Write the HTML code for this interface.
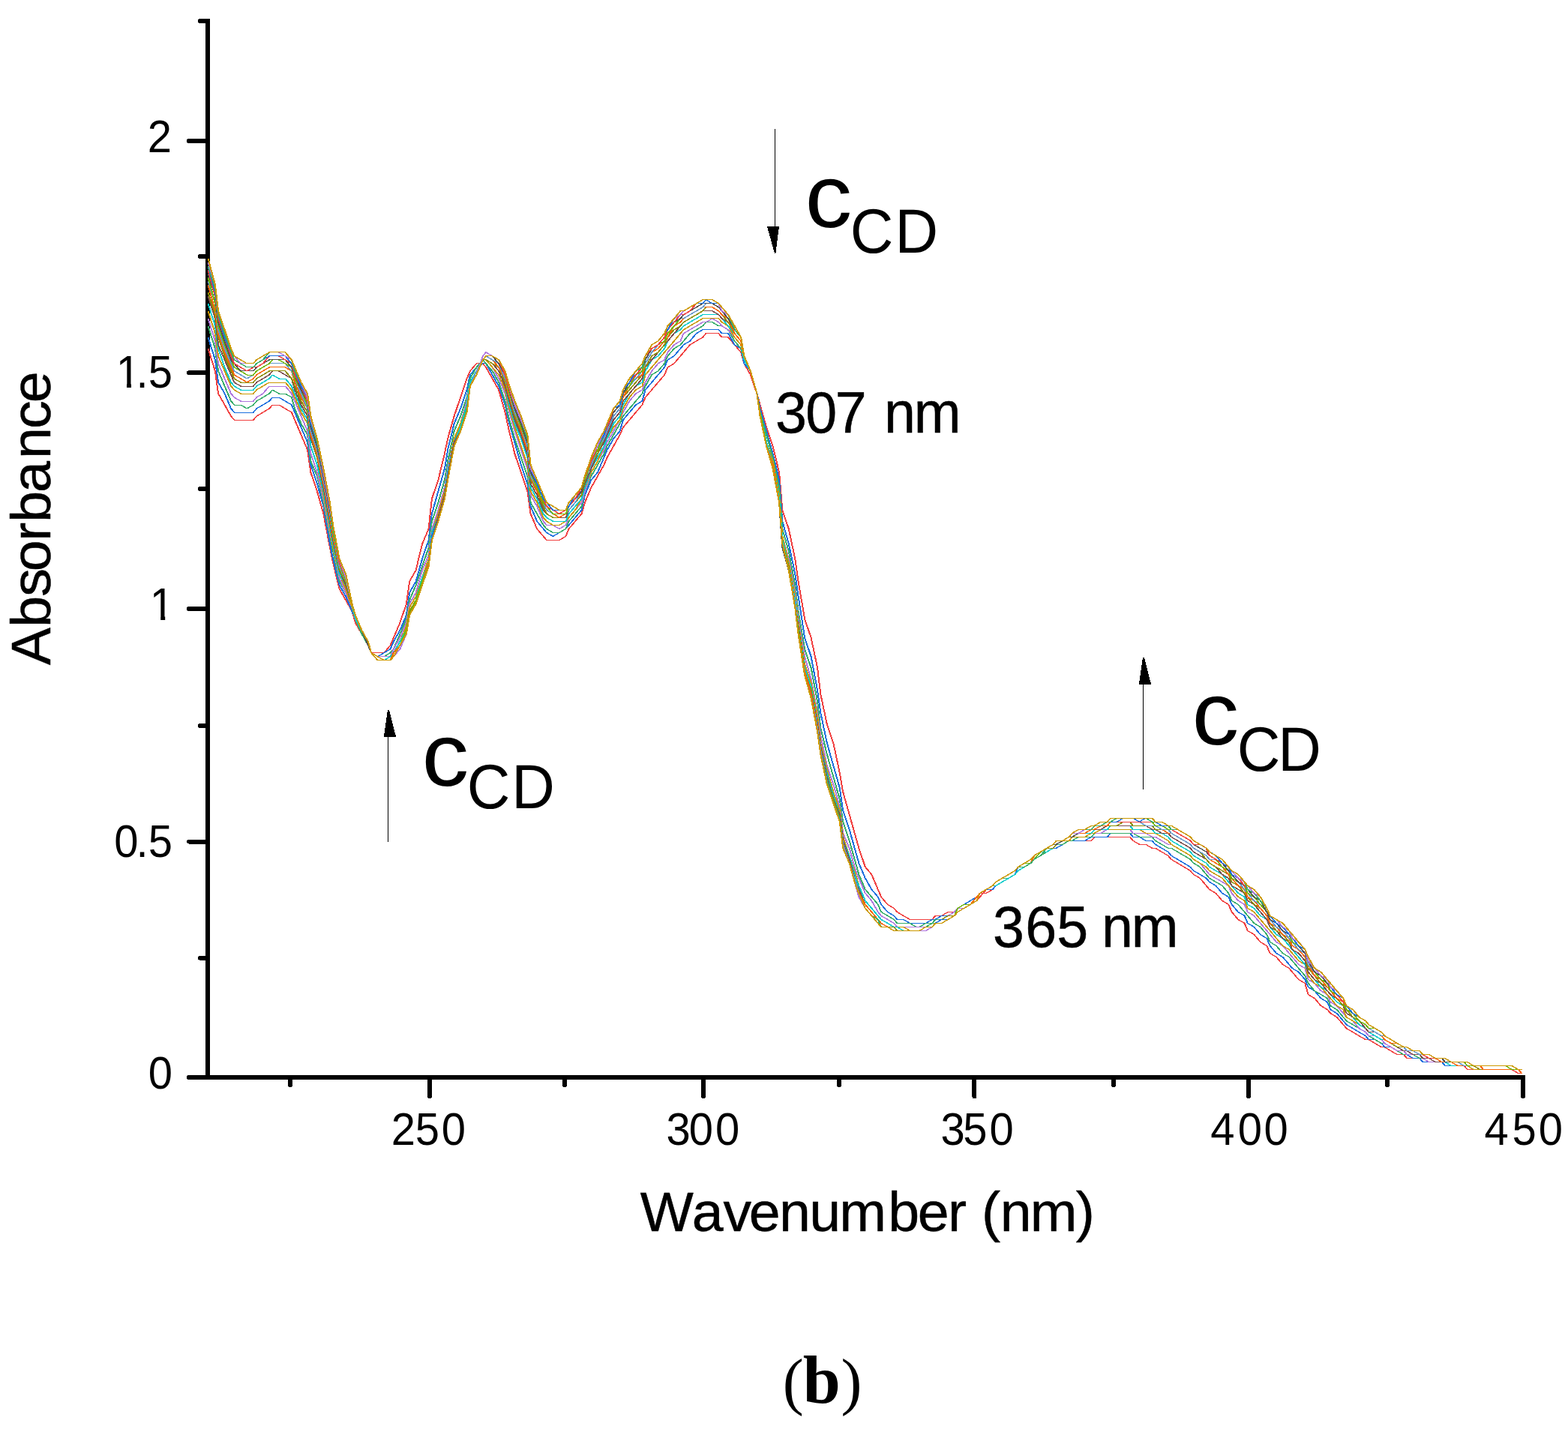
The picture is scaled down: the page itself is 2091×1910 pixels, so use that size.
<!DOCTYPE html>
<html lang="en"><head><meta charset="utf-8"><title>Absorbance spectra (b)</title>
<style>html,body{margin:0;padding:0;background:#fff}body{width:2091px;height:1910px;overflow:hidden}svg{display:block}text{white-space:pre}</style></head>
<body>
<svg width="2091" height="1910" viewBox="0 0 2091 1910" role="img" aria-label="UV absorbance spectra, panel b">
<rect width="2091" height="1910" fill="#fff"/>
<g fill="#000" shape-rendering="crispEdges">
<rect x="274" y="25.2" width="6" height="1414.8"/>
<rect x="274" y="1434" width="1760" height="6"/>
<rect x="249.2" y="185.1" width="28" height="6" rx="2.6"/>
<rect x="249.2" y="494.3" width="28" height="6" rx="2.6"/>
<rect x="249.2" y="809" width="28" height="6" rx="2.6"/>
<rect x="249.2" y="1119.5" width="28" height="6" rx="2.6"/>
<rect x="249.2" y="1434" width="28" height="6" rx="2.6"/>
<rect x="264.1" y="25.2" width="13" height="6" rx="2.6"/>
<rect x="264.1" y="339.3" width="13" height="6" rx="2.6"/>
<rect x="264.1" y="649" width="13" height="6" rx="2.6"/>
<rect x="264.1" y="964.8" width="13" height="6" rx="2.6"/>
<rect x="264.1" y="1274.7" width="13" height="6" rx="2.6"/>
<rect x="569.8" y="1437" width="6" height="28" rx="2.2"/>
<rect x="935" y="1437" width="6" height="28" rx="2.2"/>
<rect x="1296.3" y="1437" width="6" height="28" rx="2.2"/>
<rect x="1662" y="1437" width="6" height="28" rx="2.2"/>
<rect x="2028" y="1437" width="6" height="28" rx="2.2"/>
<rect x="384" y="1437" width="6" height="13.3" rx="2.6"/>
<rect x="750" y="1437" width="6" height="13.3" rx="2.6"/>
<rect x="1116" y="1437" width="6" height="13.3" rx="2.6"/>
<rect x="1482" y="1437" width="6" height="13.3" rx="2.6"/>
<rect x="1847" y="1437" width="6" height="13.3" rx="2.6"/>
</g>
<g fill="none" stroke-width="1" stroke-linejoin="miter" stroke-linecap="butt" shape-rendering="crispEdges">
<path stroke="#F14040" d="M277,464.9 286.4,494.9 290.6,525 299.1,540 307.6,555.1 311.9,560.1 337.4,560.1 341.6,555.1 350.1,550 358.6,545 362.9,540 371.4,540 379.9,545 388.4,550 392.6,560.1 401.1,580.1 409.6,600.1 413.9,630.2 422.4,655.3 430.9,685.3 439.4,730.4 443.6,750.4 452.1,785.5 460.6,800.5 469.1,815.6 473.4,830.6 481.9,845.6 490.4,860.7 494.6,870.7 511.6,870.7 520.1,860.7 524.4,850.6 532.9,830.6 541.4,805.6 545.6,775.5 554.1,760.5 562.6,725.4 571.1,705.4 575.4,665.3 583.9,640.2 592.4,605.2 596.6,585.1 605.1,555.1 613.6,530 622.1,505 626.4,494.9 634.9,484.9 643.4,484.9 647.6,489.9 656.1,505 664.6,520 673.1,550 677.4,570.1 685.9,605.2 694.4,630.2 702.9,655.3 707.1,685.3 715.6,705.4 724.1,715.4 728.4,720.4 745.4,720.4 753.9,715.4 758.1,705.4 766.6,695.3 775.1,685.3 779.4,670.3 787.9,650.2 796.4,635.2 804.9,620.2 809.1,610.2 817.6,595.1 826.1,580.1 830.4,570.1 838.9,560.1 847.4,550 855.9,540 860.1,530 868.6,520 877.1,510 885.6,500 889.9,489.9 898.4,484.9 906.9,474.9 911.1,469.9 919.6,459.9 928.1,454.9 936.6,449.9 940.9,444.8 957.9,444.8 962.1,449.9 970.6,449.9 979.1,459.9 987.6,469.9 991.9,484.9 1000.4,500 1008.9,525 1013.1,540 1021.6,570.1 1030.1,595.1 1038.6,630.2 1042.8,680.3 1051.3,705.4 1059.8,745.4 1064.1,775.5 1072.6,825.6 1081.1,850.6 1089.6,890.7 1093.8,925.8 1102.3,965.9 1110.8,990.9 1119.3,1031 1123.6,1056.1 1132.1,1086.1 1140.6,1116.2 1144.8,1131.2 1153.3,1156.3 1161.8,1166.3 1170.3,1186.3 1174.6,1196.3 1183.1,1206.4 1191.6,1211.4 1195.8,1216.4 1204.3,1221.4 1212.8,1226.4 1242.6,1226.4 1246.8,1221.4 1255.3,1221.4 1263.8,1216.4 1272.3,1216.4 1276.6,1211.4 1285.1,1206.4 1293.6,1201.3 1302.1,1196.3 1306.3,1191.3 1314.8,1191.3 1323.3,1186.3 1327.6,1181.3 1336.1,1176.3 1344.6,1171.3 1353.1,1166.3 1357.3,1161.3 1365.8,1156.3 1374.3,1151.2 1378.6,1146.2 1387.1,1141.2 1395.6,1136.2 1404.1,1131.2 1408.3,1131.2 1416.8,1126.2 1425.3,1121.2 1455.1,1121.2 1459.3,1116.2 1506.1,1116.2 1510.3,1121.2 1518.8,1126.2 1527.3,1126.2 1535.8,1131.2 1540.1,1131.2 1548.6,1136.2 1557.1,1141.2 1561.3,1146.2 1569.8,1151.2 1578.3,1156.3 1586.8,1161.3 1591.1,1166.3 1599.6,1171.3 1608.1,1181.3 1612.3,1186.3 1620.8,1191.3 1629.3,1201.3 1637.8,1206.4 1642.1,1216.4 1650.6,1226.4 1659.1,1231.4 1663.3,1241.4 1671.8,1246.4 1680.3,1256.5 1688.8,1261.5 1693.1,1271.5 1701.6,1276.5 1710.1,1286.5 1718.6,1291.5 1722.8,1296.5 1731.3,1306.6 1739.8,1311.6 1744.1,1326.6 1752.6,1331.6 1761.1,1341.6 1769.6,1346.6 1773.8,1351.6 1782.3,1356.7 1790.8,1366.7 1795.1,1371.7 1803.6,1376.7 1812.1,1381.7 1820.6,1386.7 1824.8,1386.7 1833.3,1391.7 1841.8,1396.7 1846.1,1396.7 1854.6,1401.8 1863.1,1406.8 1871.6,1406.8 1875.8,1411.8 1892.8,1411.8 1897.1,1416.8 1922.6,1416.8 1926.8,1421.8 1952.3,1421.8 1956.6,1426.8 2016.1,1426.8 2024.6,1431.8 2028.8,1431.8 M278,464.9 287.4,494.9 291.6,525 300.1,540 308.6,555.1 312.9,560.1 338.4,560.1 342.6,555.1 351.1,550 359.6,545 363.9,540 372.4,540 380.9,545 389.4,550 393.6,560.1 402.1,580.1 410.6,600.1 414.9,630.2 423.4,655.3 431.9,685.3 440.4,730.4 444.6,750.4 453.1,785.5 461.6,800.5 470.1,815.6 474.4,830.6 482.9,845.6 491.4,860.7 495.6,870.7 512.6,870.7 521.1,860.7 525.4,850.6 533.9,830.6 542.4,805.6 546.6,775.5 555.1,760.5 563.6,725.4 572.1,705.4 576.4,665.3 584.9,640.2 593.4,605.2 597.6,585.1 606.1,555.1 614.6,530 623.1,505 627.4,494.9 635.9,484.9 644.4,484.9 648.6,489.9 657.1,505 665.6,520 674.1,550 678.4,570.1 686.9,605.2 695.4,630.2 703.9,655.3 708.1,685.3 716.6,705.4 725.1,715.4 729.4,720.4 746.4,720.4 754.9,715.4 759.1,705.4 767.6,695.3 776.1,685.3 780.4,670.3 788.9,650.2 797.4,635.2 805.9,620.2 810.1,610.2 818.6,595.1 827.1,580.1 831.4,570.1 839.9,560.1 848.4,550 856.9,540 861.1,530 869.6,520 878.1,510 886.6,500 890.9,489.9 899.4,484.9 907.9,474.9 912.1,469.9 920.6,459.9 929.1,454.9 937.6,449.9 941.9,444.8 958.9,444.8 963.1,449.9 971.6,449.9 980.1,459.9 988.6,469.9 992.9,484.9 1001.4,500 1009.9,525 1014.1,540 1022.6,570.1 1031.1,595.1 1039.6,630.2 1043.8,680.3 1052.3,705.4 1060.8,745.4 1065.1,775.5 1073.6,825.6 1082.1,850.6 1090.6,890.7 1094.8,925.8 1103.3,965.9 1111.8,990.9 1120.3,1031 1124.6,1056.1 1133.1,1086.1 1141.6,1116.2 1145.8,1131.2 1154.3,1156.3 1162.8,1166.3 1171.3,1186.3 1175.6,1196.3 1184.1,1206.4 1192.6,1211.4 1196.8,1216.4 1205.3,1221.4 1213.8,1226.4 1243.6,1226.4 1247.8,1221.4 1256.3,1221.4 1264.8,1216.4 1273.3,1216.4 1277.6,1211.4 1286.1,1206.4 1294.6,1201.3 1303.1,1196.3 1307.3,1191.3 1315.8,1191.3 1324.3,1186.3 1328.6,1181.3 1337.1,1176.3 1345.6,1171.3 1354.1,1166.3 1358.3,1161.3 1366.8,1156.3 1375.3,1151.2 1379.6,1146.2 1388.1,1141.2 1396.6,1136.2 1405.1,1131.2 1409.3,1131.2 1417.8,1126.2 1426.3,1121.2 1456.1,1121.2 1460.3,1116.2 1507.1,1116.2 1511.3,1121.2 1519.8,1126.2 1528.3,1126.2 1536.8,1131.2 1541.1,1131.2 1549.6,1136.2 1558.1,1141.2 1562.3,1146.2 1570.8,1151.2 1579.3,1156.3 1587.8,1161.3 1592.1,1166.3 1600.6,1171.3 1609.1,1181.3 1613.3,1186.3 1621.8,1191.3 1630.3,1201.3 1638.8,1206.4 1643.1,1216.4 1651.6,1226.4 1660.1,1231.4 1664.3,1241.4 1672.8,1246.4 1681.3,1256.5 1689.8,1261.5 1694.1,1271.5 1702.6,1276.5 1711.1,1286.5 1719.6,1291.5 1723.8,1296.5 1732.3,1306.6 1740.8,1311.6 1745.1,1326.6 1753.6,1331.6 1762.1,1341.6 1770.6,1346.6 1774.8,1351.6 1783.3,1356.7 1791.8,1366.7 1796.1,1371.7 1804.6,1376.7 1813.1,1381.7 1821.6,1386.7 1825.8,1386.7 1834.3,1391.7 1842.8,1396.7 1847.1,1396.7 1855.6,1401.8 1864.1,1406.8 1872.6,1406.8 1876.8,1411.8 1893.8,1411.8 1898.1,1416.8 1923.6,1416.8 1927.8,1421.8 1953.3,1421.8 1957.6,1426.8 2017.1,1426.8 2025.6,1431.8 2029.8,1431.8"/>
<path stroke="#1A6FDF" d="M277,449.9 286.4,479.9 290.6,510 299.1,525 307.6,545 311.9,550 337.4,550 341.6,545 350.1,540 358.6,535 362.9,530 371.4,530 379.9,535 388.4,540 392.6,550 401.1,570.1 409.6,590.1 413.9,620.2 422.4,645.2 430.9,675.3 439.4,725.4 443.6,745.4 452.1,780.5 460.6,795.5 469.1,815.6 473.4,825.6 481.9,845.6 490.4,860.7 494.6,870.7 503.1,875.7 511.6,870.7 520.1,865.7 524.4,855.7 532.9,840.6 541.4,820.6 545.6,790.5 554.1,775.5 562.6,745.4 571.1,720.4 575.4,685.3 583.9,655.3 592.4,625.2 596.6,600.1 605.1,565.1 613.6,545 622.1,520 626.4,500 634.9,489.9 643.4,484.9 647.6,484.9 656.1,500 664.6,515 673.1,540 677.4,560.1 685.9,590.1 694.4,620.2 702.9,645.2 707.1,675.3 715.6,695.3 724.1,705.4 728.4,710.4 736.9,715.4 745.4,710.4 753.9,705.4 758.1,700.4 766.6,690.3 775.1,680.3 779.4,660.3 787.9,640.2 796.4,630.2 804.9,610.2 809.1,600.1 817.6,585.1 826.1,575.1 830.4,560.1 838.9,550 847.4,540 855.9,535 860.1,520 868.6,510 877.1,500 885.6,489.9 889.9,479.9 898.4,474.9 906.9,464.9 911.1,459.9 919.6,454.9 928.1,444.8 936.6,439.8 957.9,439.8 962.1,444.8 970.6,444.8 979.1,459.9 987.6,464.9 991.9,484.9 1000.4,494.9 1008.9,525 1013.1,545 1021.6,575.1 1030.1,605.2 1038.6,640.2 1042.8,695.3 1051.3,725.4 1059.8,765.5 1064.1,795.5 1072.6,850.6 1081.1,875.7 1089.6,920.8 1093.8,950.8 1102.3,990.9 1110.8,1021 1119.3,1051 1123.6,1081.1 1132.1,1106.2 1140.6,1136.2 1144.8,1151.2 1153.3,1171.3 1161.8,1186.3 1170.3,1196.3 1174.6,1206.4 1183.1,1216.4 1191.6,1221.4 1195.8,1226.4 1204.3,1226.4 1212.8,1231.4 1234.1,1231.4 1242.6,1226.4 1246.8,1226.4 1255.3,1221.4 1263.8,1221.4 1272.3,1216.4 1276.6,1211.4 1285.1,1206.4 1293.6,1201.3 1302.1,1196.3 1306.3,1191.3 1314.8,1186.3 1323.3,1186.3 1327.6,1181.3 1336.1,1176.3 1344.6,1171.3 1353.1,1166.3 1357.3,1156.3 1365.8,1151.2 1374.3,1151.2 1378.6,1146.2 1387.1,1141.2 1395.6,1136.2 1404.1,1131.2 1408.3,1131.2 1416.8,1126.2 1425.3,1121.2 1446.6,1121.2 1455.1,1116.2 1476.3,1116.2 1480.6,1111.2 1506.1,1111.2 1510.3,1116.2 1518.8,1116.2 1527.3,1121.2 1535.8,1121.2 1540.1,1126.2 1548.6,1131.2 1557.1,1136.2 1561.3,1141.2 1569.8,1146.2 1578.3,1151.2 1586.8,1156.3 1591.1,1161.3 1599.6,1166.3 1608.1,1171.3 1612.3,1176.3 1620.8,1181.3 1629.3,1191.3 1637.8,1196.3 1642.1,1206.4 1650.6,1216.4 1659.1,1221.4 1663.3,1231.4 1671.8,1236.4 1680.3,1246.4 1688.8,1251.5 1693.1,1261.5 1701.6,1271.5 1710.1,1276.5 1718.6,1286.5 1722.8,1291.5 1731.3,1296.5 1739.8,1306.6 1744.1,1316.6 1752.6,1321.6 1761.1,1331.6 1769.6,1336.6 1773.8,1346.6 1782.3,1351.6 1790.8,1361.7 1795.1,1366.7 1803.6,1371.7 1812.1,1376.7 1820.6,1381.7 1824.8,1386.7 1833.3,1386.7 1841.8,1391.7 1846.1,1396.7 1854.6,1396.7 1863.1,1401.8 1871.6,1406.8 1875.8,1406.8 1884.3,1411.8 1892.8,1411.8 1897.1,1416.8 1922.6,1416.8 1926.8,1421.8 1956.6,1421.8 1965.1,1426.8 2024.6,1426.8 2028.8,1431.8 M278,449.9 287.4,479.9 291.6,510 300.1,525 308.6,545 312.9,550 338.4,550 342.6,545 351.1,540 359.6,535 363.9,530 372.4,530 380.9,535 389.4,540 393.6,550 402.1,570.1 410.6,590.1 414.9,620.2 423.4,645.2 431.9,675.3 440.4,725.4 444.6,745.4 453.1,780.5 461.6,795.5 470.1,815.6 474.4,825.6 482.9,845.6 491.4,860.7 495.6,870.7 504.1,875.7 512.6,870.7 521.1,865.7 525.4,855.7 533.9,840.6 542.4,820.6 546.6,790.5 555.1,775.5 563.6,745.4 572.1,720.4 576.4,685.3 584.9,655.3 593.4,625.2 597.6,600.1 606.1,565.1 614.6,545 623.1,520 627.4,500 635.9,489.9 644.4,484.9 648.6,484.9 657.1,500 665.6,515 674.1,540 678.4,560.1 686.9,590.1 695.4,620.2 703.9,645.2 708.1,675.3 716.6,695.3 725.1,705.4 729.4,710.4 737.9,715.4 746.4,710.4 754.9,705.4 759.1,700.4 767.6,690.3 776.1,680.3 780.4,660.3 788.9,640.2 797.4,630.2 805.9,610.2 810.1,600.1 818.6,585.1 827.1,575.1 831.4,560.1 839.9,550 848.4,540 856.9,535 861.1,520 869.6,510 878.1,500 886.6,489.9 890.9,479.9 899.4,474.9 907.9,464.9 912.1,459.9 920.6,454.9 929.1,444.8 937.6,439.8 958.9,439.8 963.1,444.8 971.6,444.8 980.1,459.9 988.6,464.9 992.9,484.9 1001.4,494.9 1009.9,525 1014.1,545 1022.6,575.1 1031.1,605.2 1039.6,640.2 1043.8,695.3 1052.3,725.4 1060.8,765.5 1065.1,795.5 1073.6,850.6 1082.1,875.7 1090.6,920.8 1094.8,950.8 1103.3,990.9 1111.8,1021 1120.3,1051 1124.6,1081.1 1133.1,1106.2 1141.6,1136.2 1145.8,1151.2 1154.3,1171.3 1162.8,1186.3 1171.3,1196.3 1175.6,1206.4 1184.1,1216.4 1192.6,1221.4 1196.8,1226.4 1205.3,1226.4 1213.8,1231.4 1235.1,1231.4 1243.6,1226.4 1247.8,1226.4 1256.3,1221.4 1264.8,1221.4 1273.3,1216.4 1277.6,1211.4 1286.1,1206.4 1294.6,1201.3 1303.1,1196.3 1307.3,1191.3 1315.8,1186.3 1324.3,1186.3 1328.6,1181.3 1337.1,1176.3 1345.6,1171.3 1354.1,1166.3 1358.3,1156.3 1366.8,1151.2 1375.3,1151.2 1379.6,1146.2 1388.1,1141.2 1396.6,1136.2 1405.1,1131.2 1409.3,1131.2 1417.8,1126.2 1426.3,1121.2 1447.6,1121.2 1456.1,1116.2 1477.3,1116.2 1481.6,1111.2 1507.1,1111.2 1511.3,1116.2 1519.8,1116.2 1528.3,1121.2 1536.8,1121.2 1541.1,1126.2 1549.6,1131.2 1558.1,1136.2 1562.3,1141.2 1570.8,1146.2 1579.3,1151.2 1587.8,1156.3 1592.1,1161.3 1600.6,1166.3 1609.1,1171.3 1613.3,1176.3 1621.8,1181.3 1630.3,1191.3 1638.8,1196.3 1643.1,1206.4 1651.6,1216.4 1660.1,1221.4 1664.3,1231.4 1672.8,1236.4 1681.3,1246.4 1689.8,1251.5 1694.1,1261.5 1702.6,1271.5 1711.1,1276.5 1719.6,1286.5 1723.8,1291.5 1732.3,1296.5 1740.8,1306.6 1745.1,1316.6 1753.6,1321.6 1762.1,1331.6 1770.6,1336.6 1774.8,1346.6 1783.3,1351.6 1791.8,1361.7 1796.1,1366.7 1804.6,1371.7 1813.1,1376.7 1821.6,1381.7 1825.8,1386.7 1834.3,1386.7 1842.8,1391.7 1847.1,1396.7 1855.6,1396.7 1864.1,1401.8 1872.6,1406.8 1876.8,1406.8 1885.3,1411.8 1893.8,1411.8 1898.1,1416.8 1923.6,1416.8 1927.8,1421.8 1957.6,1421.8 1966.1,1426.8 2025.6,1426.8 2029.8,1431.8"/>
<path stroke="#37AD6B" d="M277,434.8 286.4,464.9 290.6,494.9 299.1,515 307.6,535 311.9,540 320.4,540 328.9,545 337.4,540 341.6,535 350.1,530 358.6,525 362.9,520 371.4,525 379.9,525 388.4,530 392.6,545 401.1,565.1 409.6,580.1 413.9,615.2 422.4,635.2 430.9,670.3 439.4,715.4 443.6,735.4 452.1,775.5 460.6,790.5 469.1,810.6 473.4,825.6 481.9,845.6 490.4,860.7 494.6,870.7 503.1,875.7 511.6,875.7 520.1,870.7 524.4,865.7 532.9,845.6 541.4,825.6 545.6,800.5 554.1,780.5 562.6,755.5 571.1,730.4 575.4,695.3 583.9,670.3 592.4,640.2 596.6,615.2 605.1,575.1 613.6,555.1 622.1,530 626.4,505 634.9,489.9 643.4,479.9 647.6,484.9 656.1,494.9 664.6,510 673.1,535 677.4,555.1 685.9,585.1 694.4,610.2 702.9,635.2 707.1,670.3 715.6,685.3 724.1,700.4 728.4,705.4 736.9,710.4 745.4,710.4 753.9,705.4 758.1,695.3 766.6,685.3 775.1,675.3 779.4,655.3 787.9,635.2 796.4,620.2 804.9,605.2 809.1,595.1 817.6,580.1 826.1,565.1 830.4,555.1 838.9,545 847.4,535 855.9,525 860.1,515 868.6,500 877.1,494.9 885.6,484.9 889.9,474.9 898.4,464.9 906.9,459.9 911.1,454.9 919.6,444.8 928.1,439.8 936.6,434.8 940.9,429.8 949.4,429.8 957.9,434.8 962.1,434.8 970.6,439.8 979.1,454.9 987.6,464.9 991.9,479.9 1000.4,494.9 1008.9,525 1013.1,550 1021.6,580.1 1030.1,610.2 1038.6,650.2 1042.8,705.4 1051.3,735.4 1059.8,780.5 1064.1,815.6 1072.6,865.7 1081.1,890.7 1089.6,935.8 1093.8,970.9 1102.3,1006 1110.8,1036 1119.3,1066.1 1123.6,1096.1 1132.1,1121.2 1140.6,1151.2 1144.8,1166.3 1153.3,1186.3 1161.8,1196.3 1170.3,1206.4 1174.6,1216.4 1183.1,1221.4 1191.6,1226.4 1195.8,1231.4 1212.8,1231.4 1221.3,1236.4 1225.6,1236.4 1234.1,1231.4 1242.6,1231.4 1246.8,1226.4 1255.3,1226.4 1263.8,1221.4 1272.3,1216.4 1276.6,1211.4 1285.1,1211.4 1293.6,1206.4 1302.1,1201.3 1306.3,1191.3 1314.8,1186.3 1323.3,1181.3 1327.6,1176.3 1336.1,1171.3 1344.6,1171.3 1353.1,1166.3 1357.3,1161.3 1365.8,1156.3 1374.3,1151.2 1378.6,1146.2 1387.1,1141.2 1395.6,1136.2 1404.1,1131.2 1408.3,1126.2 1416.8,1126.2 1425.3,1121.2 1429.6,1121.2 1438.1,1116.2 1455.1,1116.2 1459.3,1111.2 1510.3,1111.2 1518.8,1116.2 1535.8,1116.2 1540.1,1121.2 1548.6,1126.2 1557.1,1131.2 1561.3,1131.2 1569.8,1136.2 1578.3,1141.2 1586.8,1146.2 1591.1,1151.2 1599.6,1156.3 1608.1,1166.3 1612.3,1171.3 1620.8,1176.3 1629.3,1181.3 1637.8,1191.3 1642.1,1201.3 1650.6,1206.4 1659.1,1216.4 1663.3,1221.4 1671.8,1231.4 1680.3,1236.4 1688.8,1246.4 1693.1,1256.5 1701.6,1261.5 1710.1,1271.5 1718.6,1276.5 1722.8,1281.5 1731.3,1291.5 1739.8,1301.5 1744.1,1311.6 1752.6,1321.6 1761.1,1326.6 1769.6,1331.6 1773.8,1341.6 1782.3,1346.6 1790.8,1356.7 1795.1,1361.7 1803.6,1366.7 1812.1,1371.7 1820.6,1376.7 1824.8,1381.7 1833.3,1386.7 1841.8,1391.7 1846.1,1391.7 1854.6,1396.7 1863.1,1401.8 1871.6,1406.8 1884.3,1406.8 1892.8,1411.8 1897.1,1411.8 1905.6,1416.8 1926.8,1416.8 1935.3,1421.8 1956.6,1421.8 1965.1,1426.8 2024.6,1426.8 2028.8,1431.8 M278,434.8 287.4,464.9 291.6,494.9 300.1,515 308.6,535 312.9,540 321.4,540 329.9,545 338.4,540 342.6,535 351.1,530 359.6,525 363.9,520 372.4,525 380.9,525 389.4,530 393.6,545 402.1,565.1 410.6,580.1 414.9,615.2 423.4,635.2 431.9,670.3 440.4,715.4 444.6,735.4 453.1,775.5 461.6,790.5 470.1,810.6 474.4,825.6 482.9,845.6 491.4,860.7 495.6,870.7 504.1,875.7 512.6,875.7 521.1,870.7 525.4,865.7 533.9,845.6 542.4,825.6 546.6,800.5 555.1,780.5 563.6,755.5 572.1,730.4 576.4,695.3 584.9,670.3 593.4,640.2 597.6,615.2 606.1,575.1 614.6,555.1 623.1,530 627.4,505 635.9,489.9 644.4,479.9 648.6,484.9 657.1,494.9 665.6,510 674.1,535 678.4,555.1 686.9,585.1 695.4,610.2 703.9,635.2 708.1,670.3 716.6,685.3 725.1,700.4 729.4,705.4 737.9,710.4 746.4,710.4 754.9,705.4 759.1,695.3 767.6,685.3 776.1,675.3 780.4,655.3 788.9,635.2 797.4,620.2 805.9,605.2 810.1,595.1 818.6,580.1 827.1,565.1 831.4,555.1 839.9,545 848.4,535 856.9,525 861.1,515 869.6,500 878.1,494.9 886.6,484.9 890.9,474.9 899.4,464.9 907.9,459.9 912.1,454.9 920.6,444.8 929.1,439.8 937.6,434.8 941.9,429.8 950.4,429.8 958.9,434.8 963.1,434.8 971.6,439.8 980.1,454.9 988.6,464.9 992.9,479.9 1001.4,494.9 1009.9,525 1014.1,550 1022.6,580.1 1031.1,610.2 1039.6,650.2 1043.8,705.4 1052.3,735.4 1060.8,780.5 1065.1,815.6 1073.6,865.7 1082.1,890.7 1090.6,935.8 1094.8,970.9 1103.3,1006 1111.8,1036 1120.3,1066.1 1124.6,1096.1 1133.1,1121.2 1141.6,1151.2 1145.8,1166.3 1154.3,1186.3 1162.8,1196.3 1171.3,1206.4 1175.6,1216.4 1184.1,1221.4 1192.6,1226.4 1196.8,1231.4 1213.8,1231.4 1222.3,1236.4 1226.6,1236.4 1235.1,1231.4 1243.6,1231.4 1247.8,1226.4 1256.3,1226.4 1264.8,1221.4 1273.3,1216.4 1277.6,1211.4 1286.1,1211.4 1294.6,1206.4 1303.1,1201.3 1307.3,1191.3 1315.8,1186.3 1324.3,1181.3 1328.6,1176.3 1337.1,1171.3 1345.6,1171.3 1354.1,1166.3 1358.3,1161.3 1366.8,1156.3 1375.3,1151.2 1379.6,1146.2 1388.1,1141.2 1396.6,1136.2 1405.1,1131.2 1409.3,1126.2 1417.8,1126.2 1426.3,1121.2 1430.6,1121.2 1439.1,1116.2 1456.1,1116.2 1460.3,1111.2 1511.3,1111.2 1519.8,1116.2 1536.8,1116.2 1541.1,1121.2 1549.6,1126.2 1558.1,1131.2 1562.3,1131.2 1570.8,1136.2 1579.3,1141.2 1587.8,1146.2 1592.1,1151.2 1600.6,1156.3 1609.1,1166.3 1613.3,1171.3 1621.8,1176.3 1630.3,1181.3 1638.8,1191.3 1643.1,1201.3 1651.6,1206.4 1660.1,1216.4 1664.3,1221.4 1672.8,1231.4 1681.3,1236.4 1689.8,1246.4 1694.1,1256.5 1702.6,1261.5 1711.1,1271.5 1719.6,1276.5 1723.8,1281.5 1732.3,1291.5 1740.8,1301.5 1745.1,1311.6 1753.6,1321.6 1762.1,1326.6 1770.6,1331.6 1774.8,1341.6 1783.3,1346.6 1791.8,1356.7 1796.1,1361.7 1804.6,1366.7 1813.1,1371.7 1821.6,1376.7 1825.8,1381.7 1834.3,1386.7 1842.8,1391.7 1847.1,1391.7 1855.6,1396.7 1864.1,1401.8 1872.6,1406.8 1885.3,1406.8 1893.8,1411.8 1898.1,1411.8 1906.6,1416.8 1927.8,1416.8 1936.3,1421.8 1957.6,1421.8 1966.1,1426.8 2025.6,1426.8 2029.8,1431.8"/>
<path stroke="#B177DE" d="M277,424.8 286.4,454.9 290.6,484.9 299.1,505 307.6,525 311.9,530 320.4,535 337.4,535 341.6,530 350.1,525 358.6,515 379.9,515 388.4,525 392.6,535 401.1,555.1 409.6,575.1 413.9,605.2 422.4,630.2 430.9,665.3 439.4,710.4 443.6,730.4 452.1,770.5 460.6,790.5 469.1,810.6 473.4,825.6 481.9,840.6 490.4,855.7 494.6,870.7 503.1,875.7 520.1,875.7 524.4,865.7 532.9,850.6 541.4,830.6 545.6,805.6 554.1,790.5 562.6,760.5 571.1,740.4 575.4,705.4 583.9,680.3 592.4,650.2 596.6,625.2 605.1,585.1 613.6,565.1 622.1,535 626.4,510 634.9,494.9 643.4,479.9 647.6,479.9 656.1,489.9 664.6,505 673.1,525 677.4,545 685.9,575.1 694.4,600.1 702.9,625.2 707.1,660.3 715.6,675.3 724.1,695.3 728.4,700.4 736.9,700.4 745.4,705.4 753.9,700.4 758.1,690.3 766.6,680.3 775.1,670.3 779.4,655.3 787.9,630.2 796.4,615.2 804.9,600.1 809.1,590.1 817.6,575.1 826.1,560.1 830.4,550 838.9,535 847.4,525 855.9,520 860.1,510 868.6,494.9 877.1,484.9 885.6,479.9 889.9,469.9 898.4,459.9 906.9,454.9 911.1,444.8 919.6,439.8 928.1,434.8 936.6,429.8 940.9,429.8 949.4,424.8 957.9,429.8 962.1,434.8 970.6,439.8 979.1,449.9 987.6,459.9 991.9,479.9 1000.4,494.9 1008.9,525 1013.1,550 1021.6,590.1 1030.1,615.2 1038.6,660.3 1042.8,715.4 1051.3,745.4 1059.8,790.5 1064.1,825.6 1072.6,875.7 1081.1,905.8 1089.6,950.8 1093.8,980.9 1102.3,1021 1110.8,1046 1119.3,1076.1 1123.6,1111.2 1132.1,1131.2 1140.6,1161.3 1144.8,1171.3 1153.3,1191.3 1161.8,1201.3 1170.3,1216.4 1174.6,1221.4 1183.1,1226.4 1191.6,1231.4 1195.8,1236.4 1234.1,1236.4 1242.6,1231.4 1246.8,1231.4 1255.3,1226.4 1263.8,1221.4 1272.3,1216.4 1276.6,1211.4 1285.1,1211.4 1293.6,1206.4 1302.1,1201.3 1306.3,1191.3 1314.8,1186.3 1323.3,1181.3 1327.6,1181.3 1336.1,1176.3 1344.6,1171.3 1353.1,1166.3 1357.3,1161.3 1365.8,1156.3 1374.3,1151.2 1378.6,1146.2 1387.1,1141.2 1395.6,1131.2 1404.1,1131.2 1408.3,1126.2 1416.8,1121.2 1425.3,1121.2 1429.6,1116.2 1446.6,1116.2 1455.1,1111.2 1467.8,1111.2 1476.3,1106.2 1506.1,1106.2 1510.3,1111.2 1527.3,1111.2 1535.8,1116.2 1540.1,1116.2 1548.6,1121.2 1557.1,1126.2 1561.3,1126.2 1569.8,1131.2 1578.3,1136.2 1586.8,1141.2 1591.1,1146.2 1599.6,1151.2 1608.1,1161.3 1612.3,1166.3 1620.8,1171.3 1629.3,1176.3 1637.8,1181.3 1642.1,1191.3 1650.6,1201.3 1659.1,1206.4 1663.3,1216.4 1671.8,1221.4 1680.3,1231.4 1688.8,1241.4 1693.1,1246.4 1701.6,1256.5 1710.1,1261.5 1718.6,1271.5 1722.8,1276.5 1731.3,1286.5 1739.8,1291.5 1744.1,1306.6 1752.6,1311.6 1761.1,1321.6 1769.6,1326.6 1773.8,1336.6 1782.3,1341.6 1790.8,1351.6 1795.1,1356.7 1803.6,1361.7 1812.1,1371.7 1820.6,1376.7 1824.8,1381.7 1833.3,1381.7 1841.8,1386.7 1846.1,1391.7 1854.6,1396.7 1863.1,1401.8 1871.6,1401.8 1875.8,1406.8 1892.8,1406.8 1897.1,1411.8 1905.6,1416.8 1926.8,1416.8 1935.3,1421.8 1956.6,1421.8 1965.1,1426.8 2024.6,1426.8 2028.8,1431.8 M278,424.8 287.4,454.9 291.6,484.9 300.1,505 308.6,525 312.9,530 321.4,535 338.4,535 342.6,530 351.1,525 359.6,515 380.9,515 389.4,525 393.6,535 402.1,555.1 410.6,575.1 414.9,605.2 423.4,630.2 431.9,665.3 440.4,710.4 444.6,730.4 453.1,770.5 461.6,790.5 470.1,810.6 474.4,825.6 482.9,840.6 491.4,855.7 495.6,870.7 504.1,875.7 521.1,875.7 525.4,865.7 533.9,850.6 542.4,830.6 546.6,805.6 555.1,790.5 563.6,760.5 572.1,740.4 576.4,705.4 584.9,680.3 593.4,650.2 597.6,625.2 606.1,585.1 614.6,565.1 623.1,535 627.4,510 635.9,494.9 644.4,479.9 648.6,479.9 657.1,489.9 665.6,505 674.1,525 678.4,545 686.9,575.1 695.4,600.1 703.9,625.2 708.1,660.3 716.6,675.3 725.1,695.3 729.4,700.4 737.9,700.4 746.4,705.4 754.9,700.4 759.1,690.3 767.6,680.3 776.1,670.3 780.4,655.3 788.9,630.2 797.4,615.2 805.9,600.1 810.1,590.1 818.6,575.1 827.1,560.1 831.4,550 839.9,535 848.4,525 856.9,520 861.1,510 869.6,494.9 878.1,484.9 886.6,479.9 890.9,469.9 899.4,459.9 907.9,454.9 912.1,444.8 920.6,439.8 929.1,434.8 937.6,429.8 941.9,429.8 950.4,424.8 958.9,429.8 963.1,434.8 971.6,439.8 980.1,449.9 988.6,459.9 992.9,479.9 1001.4,494.9 1009.9,525 1014.1,550 1022.6,590.1 1031.1,615.2 1039.6,660.3 1043.8,715.4 1052.3,745.4 1060.8,790.5 1065.1,825.6 1073.6,875.7 1082.1,905.8 1090.6,950.8 1094.8,980.9 1103.3,1021 1111.8,1046 1120.3,1076.1 1124.6,1111.2 1133.1,1131.2 1141.6,1161.3 1145.8,1171.3 1154.3,1191.3 1162.8,1201.3 1171.3,1216.4 1175.6,1221.4 1184.1,1226.4 1192.6,1231.4 1196.8,1236.4 1235.1,1236.4 1243.6,1231.4 1247.8,1231.4 1256.3,1226.4 1264.8,1221.4 1273.3,1216.4 1277.6,1211.4 1286.1,1211.4 1294.6,1206.4 1303.1,1201.3 1307.3,1191.3 1315.8,1186.3 1324.3,1181.3 1328.6,1181.3 1337.1,1176.3 1345.6,1171.3 1354.1,1166.3 1358.3,1161.3 1366.8,1156.3 1375.3,1151.2 1379.6,1146.2 1388.1,1141.2 1396.6,1131.2 1405.1,1131.2 1409.3,1126.2 1417.8,1121.2 1426.3,1121.2 1430.6,1116.2 1447.6,1116.2 1456.1,1111.2 1468.8,1111.2 1477.3,1106.2 1507.1,1106.2 1511.3,1111.2 1528.3,1111.2 1536.8,1116.2 1541.1,1116.2 1549.6,1121.2 1558.1,1126.2 1562.3,1126.2 1570.8,1131.2 1579.3,1136.2 1587.8,1141.2 1592.1,1146.2 1600.6,1151.2 1609.1,1161.3 1613.3,1166.3 1621.8,1171.3 1630.3,1176.3 1638.8,1181.3 1643.1,1191.3 1651.6,1201.3 1660.1,1206.4 1664.3,1216.4 1672.8,1221.4 1681.3,1231.4 1689.8,1241.4 1694.1,1246.4 1702.6,1256.5 1711.1,1261.5 1719.6,1271.5 1723.8,1276.5 1732.3,1286.5 1740.8,1291.5 1745.1,1306.6 1753.6,1311.6 1762.1,1321.6 1770.6,1326.6 1774.8,1336.6 1783.3,1341.6 1791.8,1351.6 1796.1,1356.7 1804.6,1361.7 1813.1,1371.7 1821.6,1376.7 1825.8,1381.7 1834.3,1381.7 1842.8,1386.7 1847.1,1391.7 1855.6,1396.7 1864.1,1401.8 1872.6,1401.8 1876.8,1406.8 1893.8,1406.8 1898.1,1411.8 1906.6,1416.8 1927.8,1416.8 1936.3,1421.8 1957.6,1421.8 1966.1,1426.8 2025.6,1426.8 2029.8,1431.8"/>
<path stroke="#CC9900" d="M277,414.8 286.4,444.8 290.6,474.9 299.1,494.9 307.6,515 311.9,520 320.4,525 337.4,525 341.6,520 350.1,515 358.6,510 379.9,510 388.4,520 392.6,530 401.1,550 409.6,565.1 413.9,595.1 422.4,620.2 430.9,660.3 439.4,705.4 443.6,730.4 452.1,765.5 460.6,785.5 469.1,810.6 473.4,825.6 481.9,840.6 490.4,855.7 494.6,870.7 503.1,875.7 511.6,880.7 520.1,875.7 524.4,870.7 532.9,855.7 541.4,835.6 545.6,810.6 554.1,795.5 562.6,770.5 571.1,745.4 575.4,710.4 583.9,685.3 592.4,655.3 596.6,630.2 605.1,585.1 613.6,565.1 622.1,540 626.4,510 634.9,494.9 643.4,479.9 647.6,479.9 656.1,489.9 664.6,500 673.1,520 677.4,540 685.9,570.1 694.4,595.1 702.9,620.2 707.1,655.3 715.6,670.3 724.1,690.3 728.4,695.3 736.9,700.4 745.4,700.4 753.9,695.3 758.1,690.3 766.6,680.3 775.1,665.3 779.4,650.2 787.9,630.2 796.4,615.2 804.9,595.1 809.1,585.1 817.6,570.1 826.1,560.1 830.4,545 838.9,530 847.4,520 855.9,515 860.1,500 868.6,489.9 877.1,479.9 885.6,469.9 889.9,464.9 898.4,454.9 906.9,444.8 911.1,439.8 919.6,434.8 928.1,429.8 936.6,424.8 957.9,424.8 962.1,429.8 970.6,434.8 979.1,449.9 987.6,459.9 991.9,479.9 1000.4,494.9 1008.9,525 1013.1,550 1021.6,590.1 1030.1,615.2 1038.6,660.3 1042.8,715.4 1051.3,750.4 1059.8,795.5 1064.1,830.6 1072.6,885.7 1081.1,910.8 1089.6,955.9 1093.8,990.9 1102.3,1026 1110.8,1056.1 1119.3,1081.1 1123.6,1116.2 1132.1,1141.2 1140.6,1166.3 1144.8,1181.3 1153.3,1201.3 1161.8,1211.4 1170.3,1221.4 1174.6,1226.4 1183.1,1231.4 1191.6,1236.4 1204.3,1236.4 1212.8,1241.4 1225.6,1241.4 1234.1,1236.4 1242.6,1231.4 1246.8,1231.4 1255.3,1226.4 1263.8,1221.4 1272.3,1221.4 1276.6,1216.4 1285.1,1211.4 1293.6,1206.4 1302.1,1201.3 1306.3,1191.3 1314.8,1186.3 1323.3,1181.3 1327.6,1176.3 1336.1,1171.3 1344.6,1166.3 1353.1,1161.3 1357.3,1156.3 1365.8,1151.2 1374.3,1146.2 1378.6,1141.2 1387.1,1136.2 1395.6,1136.2 1404.1,1131.2 1408.3,1126.2 1416.8,1121.2 1425.3,1121.2 1429.6,1116.2 1446.6,1116.2 1455.1,1111.2 1459.3,1111.2 1467.8,1106.2 1518.8,1106.2 1527.3,1111.2 1540.1,1111.2 1548.6,1116.2 1557.1,1121.2 1561.3,1126.2 1569.8,1131.2 1578.3,1136.2 1586.8,1141.2 1591.1,1146.2 1599.6,1151.2 1608.1,1156.3 1612.3,1161.3 1620.8,1166.3 1629.3,1171.3 1637.8,1181.3 1642.1,1186.3 1650.6,1196.3 1659.1,1201.3 1663.3,1211.4 1671.8,1216.4 1680.3,1226.4 1688.8,1236.4 1693.1,1241.4 1701.6,1251.5 1710.1,1261.5 1718.6,1266.5 1722.8,1271.5 1731.3,1281.5 1739.8,1286.5 1744.1,1301.5 1752.6,1311.6 1761.1,1316.6 1769.6,1326.6 1773.8,1331.6 1782.3,1341.6 1790.8,1346.6 1795.1,1356.7 1803.6,1361.7 1812.1,1366.7 1820.6,1371.7 1824.8,1376.7 1833.3,1381.7 1841.8,1386.7 1846.1,1386.7 1854.6,1391.7 1863.1,1396.7 1871.6,1401.8 1875.8,1401.8 1884.3,1406.8 1892.8,1406.8 1897.1,1411.8 1905.6,1411.8 1914.1,1416.8 1926.8,1416.8 1935.3,1421.8 1956.6,1421.8 1965.1,1426.8 2024.6,1426.8 2028.8,1431.8 M278,414.8 287.4,444.8 291.6,474.9 300.1,494.9 308.6,515 312.9,520 321.4,525 338.4,525 342.6,520 351.1,515 359.6,510 380.9,510 389.4,520 393.6,530 402.1,550 410.6,565.1 414.9,595.1 423.4,620.2 431.9,660.3 440.4,705.4 444.6,730.4 453.1,765.5 461.6,785.5 470.1,810.6 474.4,825.6 482.9,840.6 491.4,855.7 495.6,870.7 504.1,875.7 512.6,880.7 521.1,875.7 525.4,870.7 533.9,855.7 542.4,835.6 546.6,810.6 555.1,795.5 563.6,770.5 572.1,745.4 576.4,710.4 584.9,685.3 593.4,655.3 597.6,630.2 606.1,585.1 614.6,565.1 623.1,540 627.4,510 635.9,494.9 644.4,479.9 648.6,479.9 657.1,489.9 665.6,500 674.1,520 678.4,540 686.9,570.1 695.4,595.1 703.9,620.2 708.1,655.3 716.6,670.3 725.1,690.3 729.4,695.3 737.9,700.4 746.4,700.4 754.9,695.3 759.1,690.3 767.6,680.3 776.1,665.3 780.4,650.2 788.9,630.2 797.4,615.2 805.9,595.1 810.1,585.1 818.6,570.1 827.1,560.1 831.4,545 839.9,530 848.4,520 856.9,515 861.1,500 869.6,489.9 878.1,479.9 886.6,469.9 890.9,464.9 899.4,454.9 907.9,444.8 912.1,439.8 920.6,434.8 929.1,429.8 937.6,424.8 958.9,424.8 963.1,429.8 971.6,434.8 980.1,449.9 988.6,459.9 992.9,479.9 1001.4,494.9 1009.9,525 1014.1,550 1022.6,590.1 1031.1,615.2 1039.6,660.3 1043.8,715.4 1052.3,750.4 1060.8,795.5 1065.1,830.6 1073.6,885.7 1082.1,910.8 1090.6,955.9 1094.8,990.9 1103.3,1026 1111.8,1056.1 1120.3,1081.1 1124.6,1116.2 1133.1,1141.2 1141.6,1166.3 1145.8,1181.3 1154.3,1201.3 1162.8,1211.4 1171.3,1221.4 1175.6,1226.4 1184.1,1231.4 1192.6,1236.4 1205.3,1236.4 1213.8,1241.4 1226.6,1241.4 1235.1,1236.4 1243.6,1231.4 1247.8,1231.4 1256.3,1226.4 1264.8,1221.4 1273.3,1221.4 1277.6,1216.4 1286.1,1211.4 1294.6,1206.4 1303.1,1201.3 1307.3,1191.3 1315.8,1186.3 1324.3,1181.3 1328.6,1176.3 1337.1,1171.3 1345.6,1166.3 1354.1,1161.3 1358.3,1156.3 1366.8,1151.2 1375.3,1146.2 1379.6,1141.2 1388.1,1136.2 1396.6,1136.2 1405.1,1131.2 1409.3,1126.2 1417.8,1121.2 1426.3,1121.2 1430.6,1116.2 1447.6,1116.2 1456.1,1111.2 1460.3,1111.2 1468.8,1106.2 1519.8,1106.2 1528.3,1111.2 1541.1,1111.2 1549.6,1116.2 1558.1,1121.2 1562.3,1126.2 1570.8,1131.2 1579.3,1136.2 1587.8,1141.2 1592.1,1146.2 1600.6,1151.2 1609.1,1156.3 1613.3,1161.3 1621.8,1166.3 1630.3,1171.3 1638.8,1181.3 1643.1,1186.3 1651.6,1196.3 1660.1,1201.3 1664.3,1211.4 1672.8,1216.4 1681.3,1226.4 1689.8,1236.4 1694.1,1241.4 1702.6,1251.5 1711.1,1261.5 1719.6,1266.5 1723.8,1271.5 1732.3,1281.5 1740.8,1286.5 1745.1,1301.5 1753.6,1311.6 1762.1,1316.6 1770.6,1326.6 1774.8,1331.6 1783.3,1341.6 1791.8,1346.6 1796.1,1356.7 1804.6,1361.7 1813.1,1366.7 1821.6,1371.7 1825.8,1376.7 1834.3,1381.7 1842.8,1386.7 1847.1,1386.7 1855.6,1391.7 1864.1,1396.7 1872.6,1401.8 1876.8,1401.8 1885.3,1406.8 1893.8,1406.8 1898.1,1411.8 1906.6,1411.8 1915.1,1416.8 1927.8,1416.8 1936.3,1421.8 1957.6,1421.8 1966.1,1426.8 2025.6,1426.8 2029.8,1431.8"/>
<path stroke="#00CBCC" d="M277,404.8 286.4,434.8 290.6,464.9 299.1,489.9 307.6,510 311.9,515 320.4,520 337.4,520 341.6,515 350.1,510 358.6,505 362.9,500 371.4,505 379.9,505 388.4,515 392.6,525 401.1,545 409.6,560.1 413.9,595.1 422.4,620.2 430.9,655.3 439.4,700.4 443.6,725.4 452.1,765.5 460.6,780.5 469.1,805.6 473.4,825.6 481.9,840.6 490.4,860.7 494.6,870.7 503.1,880.7 511.6,880.7 520.1,875.7 524.4,870.7 532.9,855.7 541.4,840.6 545.6,815.6 554.1,800.5 562.6,770.5 571.1,750.4 575.4,710.4 583.9,690.3 592.4,660.3 596.6,630.2 605.1,590.1 613.6,570.1 622.1,540 626.4,510 634.9,494.9 643.4,479.9 647.6,479.9 656.1,484.9 664.6,494.9 673.1,515 677.4,535 685.9,565.1 694.4,585.1 702.9,610.2 707.1,650.2 715.6,665.3 724.1,685.3 728.4,690.3 736.9,695.3 753.9,695.3 758.1,685.3 766.6,675.3 775.1,665.3 779.4,650.2 787.9,625.2 796.4,610.2 804.9,595.1 809.1,585.1 817.6,565.1 826.1,555.1 830.4,540 838.9,525 847.4,515 855.9,510 860.1,494.9 868.6,479.9 877.1,474.9 885.6,464.9 889.9,454.9 898.4,444.8 906.9,439.8 911.1,434.8 919.6,429.8 928.1,424.8 936.6,419.8 957.9,419.8 962.1,424.8 970.6,434.8 979.1,444.8 987.6,454.9 991.9,479.9 1000.4,494.9 1008.9,525 1013.1,550 1021.6,590.1 1030.1,620.2 1038.6,665.3 1042.8,720.4 1051.3,755.5 1059.8,800.5 1064.1,835.6 1072.6,890.7 1081.1,915.8 1089.6,965.9 1093.8,995.9 1102.3,1031 1110.8,1061.1 1119.3,1086.1 1123.6,1121.2 1132.1,1141.2 1140.6,1171.3 1144.8,1181.3 1153.3,1201.3 1161.8,1211.4 1170.3,1221.4 1174.6,1226.4 1183.1,1231.4 1191.6,1236.4 1195.8,1236.4 1204.3,1241.4 1225.6,1241.4 1234.1,1236.4 1242.6,1236.4 1246.8,1231.4 1255.3,1231.4 1263.8,1226.4 1272.3,1221.4 1276.6,1211.4 1285.1,1206.4 1293.6,1206.4 1302.1,1201.3 1306.3,1191.3 1314.8,1186.3 1323.3,1181.3 1327.6,1181.3 1336.1,1176.3 1344.6,1171.3 1353.1,1166.3 1357.3,1161.3 1365.8,1156.3 1374.3,1151.2 1378.6,1146.2 1387.1,1136.2 1395.6,1136.2 1404.1,1131.2 1408.3,1126.2 1416.8,1121.2 1425.3,1116.2 1429.6,1116.2 1438.1,1111.2 1455.1,1111.2 1459.3,1106.2 1476.3,1106.2 1480.6,1101.2 1506.1,1101.2 1510.3,1106.2 1535.8,1106.2 1540.1,1111.2 1548.6,1111.2 1557.1,1116.2 1561.3,1121.2 1569.8,1126.2 1578.3,1131.2 1586.8,1136.2 1591.1,1141.2 1599.6,1146.2 1608.1,1151.2 1612.3,1156.3 1620.8,1161.3 1629.3,1166.3 1637.8,1176.3 1642.1,1181.3 1650.6,1191.3 1659.1,1196.3 1663.3,1206.4 1671.8,1211.4 1680.3,1221.4 1688.8,1226.4 1693.1,1236.4 1701.6,1246.4 1710.1,1251.5 1718.6,1261.5 1722.8,1266.5 1731.3,1276.5 1739.8,1286.5 1744.1,1296.5 1752.6,1306.6 1761.1,1316.6 1769.6,1321.6 1773.8,1326.6 1782.3,1336.6 1790.8,1341.6 1795.1,1351.6 1803.6,1356.7 1812.1,1366.7 1820.6,1371.7 1824.8,1376.7 1833.3,1381.7 1841.8,1386.7 1846.1,1386.7 1854.6,1391.7 1863.1,1396.7 1871.6,1401.8 1875.8,1401.8 1884.3,1406.8 1892.8,1406.8 1897.1,1411.8 1905.6,1411.8 1914.1,1416.8 1926.8,1416.8 1935.3,1421.8 1965.1,1421.8 1973.6,1426.8 2024.6,1426.8 2028.8,1431.8 M278,404.8 287.4,434.8 291.6,464.9 300.1,489.9 308.6,510 312.9,515 321.4,520 338.4,520 342.6,515 351.1,510 359.6,505 363.9,500 372.4,505 380.9,505 389.4,515 393.6,525 402.1,545 410.6,560.1 414.9,595.1 423.4,620.2 431.9,655.3 440.4,700.4 444.6,725.4 453.1,765.5 461.6,780.5 470.1,805.6 474.4,825.6 482.9,840.6 491.4,860.7 495.6,870.7 504.1,880.7 512.6,880.7 521.1,875.7 525.4,870.7 533.9,855.7 542.4,840.6 546.6,815.6 555.1,800.5 563.6,770.5 572.1,750.4 576.4,710.4 584.9,690.3 593.4,660.3 597.6,630.2 606.1,590.1 614.6,570.1 623.1,540 627.4,510 635.9,494.9 644.4,479.9 648.6,479.9 657.1,484.9 665.6,494.9 674.1,515 678.4,535 686.9,565.1 695.4,585.1 703.9,610.2 708.1,650.2 716.6,665.3 725.1,685.3 729.4,690.3 737.9,695.3 754.9,695.3 759.1,685.3 767.6,675.3 776.1,665.3 780.4,650.2 788.9,625.2 797.4,610.2 805.9,595.1 810.1,585.1 818.6,565.1 827.1,555.1 831.4,540 839.9,525 848.4,515 856.9,510 861.1,494.9 869.6,479.9 878.1,474.9 886.6,464.9 890.9,454.9 899.4,444.8 907.9,439.8 912.1,434.8 920.6,429.8 929.1,424.8 937.6,419.8 958.9,419.8 963.1,424.8 971.6,434.8 980.1,444.8 988.6,454.9 992.9,479.9 1001.4,494.9 1009.9,525 1014.1,550 1022.6,590.1 1031.1,620.2 1039.6,665.3 1043.8,720.4 1052.3,755.5 1060.8,800.5 1065.1,835.6 1073.6,890.7 1082.1,915.8 1090.6,965.9 1094.8,995.9 1103.3,1031 1111.8,1061.1 1120.3,1086.1 1124.6,1121.2 1133.1,1141.2 1141.6,1171.3 1145.8,1181.3 1154.3,1201.3 1162.8,1211.4 1171.3,1221.4 1175.6,1226.4 1184.1,1231.4 1192.6,1236.4 1196.8,1236.4 1205.3,1241.4 1226.6,1241.4 1235.1,1236.4 1243.6,1236.4 1247.8,1231.4 1256.3,1231.4 1264.8,1226.4 1273.3,1221.4 1277.6,1211.4 1286.1,1206.4 1294.6,1206.4 1303.1,1201.3 1307.3,1191.3 1315.8,1186.3 1324.3,1181.3 1328.6,1181.3 1337.1,1176.3 1345.6,1171.3 1354.1,1166.3 1358.3,1161.3 1366.8,1156.3 1375.3,1151.2 1379.6,1146.2 1388.1,1136.2 1396.6,1136.2 1405.1,1131.2 1409.3,1126.2 1417.8,1121.2 1426.3,1116.2 1430.6,1116.2 1439.1,1111.2 1456.1,1111.2 1460.3,1106.2 1477.3,1106.2 1481.6,1101.2 1507.1,1101.2 1511.3,1106.2 1536.8,1106.2 1541.1,1111.2 1549.6,1111.2 1558.1,1116.2 1562.3,1121.2 1570.8,1126.2 1579.3,1131.2 1587.8,1136.2 1592.1,1141.2 1600.6,1146.2 1609.1,1151.2 1613.3,1156.3 1621.8,1161.3 1630.3,1166.3 1638.8,1176.3 1643.1,1181.3 1651.6,1191.3 1660.1,1196.3 1664.3,1206.4 1672.8,1211.4 1681.3,1221.4 1689.8,1226.4 1694.1,1236.4 1702.6,1246.4 1711.1,1251.5 1719.6,1261.5 1723.8,1266.5 1732.3,1276.5 1740.8,1286.5 1745.1,1296.5 1753.6,1306.6 1762.1,1316.6 1770.6,1321.6 1774.8,1326.6 1783.3,1336.6 1791.8,1341.6 1796.1,1351.6 1804.6,1356.7 1813.1,1366.7 1821.6,1371.7 1825.8,1376.7 1834.3,1381.7 1842.8,1386.7 1847.1,1386.7 1855.6,1391.7 1864.1,1396.7 1872.6,1401.8 1876.8,1401.8 1885.3,1406.8 1893.8,1406.8 1898.1,1411.8 1906.6,1411.8 1915.1,1416.8 1927.8,1416.8 1936.3,1421.8 1966.1,1421.8 1974.6,1426.8 2025.6,1426.8 2029.8,1431.8"/>
<path stroke="#7D4E4E" d="M277,394.7 286.4,424.8 290.6,459.9 299.1,479.9 307.6,500 311.9,510 320.4,515 337.4,515 341.6,510 350.1,505 358.6,500 362.9,494.9 371.4,494.9 379.9,500 388.4,505 392.6,520 401.1,540 409.6,555.1 413.9,585.1 422.4,610.2 430.9,650.2 439.4,695.3 443.6,720.4 452.1,760.5 460.6,780.5 469.1,805.6 473.4,820.6 481.9,840.6 490.4,860.7 494.6,870.7 503.1,880.7 520.1,880.7 524.4,875.7 532.9,860.7 541.4,840.6 545.6,815.6 554.1,800.5 562.6,775.5 571.1,750.4 575.4,715.4 583.9,690.3 592.4,660.3 596.6,635.2 605.1,590.1 613.6,575.1 622.1,545 626.4,515 634.9,494.9 643.4,479.9 647.6,479.9 656.1,484.9 664.6,494.9 673.1,515 677.4,530 685.9,560.1 694.4,580.1 702.9,605.2 707.1,645.2 715.6,660.3 724.1,680.3 728.4,685.3 736.9,690.3 753.9,690.3 758.1,680.3 766.6,670.3 775.1,660.3 779.4,645.2 787.9,625.2 796.4,605.2 804.9,590.1 809.1,580.1 817.6,560.1 826.1,550 830.4,535 838.9,525 847.4,515 855.9,505 860.1,489.9 868.6,479.9 877.1,469.9 885.6,459.9 889.9,454.9 898.4,444.8 906.9,434.8 911.1,429.8 919.6,424.8 928.1,419.8 936.6,414.8 949.4,414.8 957.9,419.8 962.1,424.8 970.6,429.8 979.1,444.8 987.6,454.9 991.9,474.9 1000.4,494.9 1008.9,525 1013.1,550 1021.6,595.1 1030.1,620.2 1038.6,670.3 1042.8,725.4 1051.3,755.5 1059.8,805.6 1064.1,835.6 1072.6,895.7 1081.1,920.8 1089.6,965.9 1093.8,995.9 1102.3,1036 1110.8,1066.1 1119.3,1086.1 1123.6,1121.2 1132.1,1146.2 1140.6,1176.3 1144.8,1186.3 1153.3,1206.4 1161.8,1216.4 1170.3,1226.4 1174.6,1231.4 1183.1,1236.4 1191.6,1236.4 1195.8,1241.4 1225.6,1241.4 1234.1,1236.4 1242.6,1231.4 1246.8,1231.4 1255.3,1226.4 1263.8,1226.4 1272.3,1221.4 1276.6,1216.4 1285.1,1211.4 1293.6,1206.4 1302.1,1201.3 1306.3,1191.3 1314.8,1186.3 1323.3,1181.3 1327.6,1176.3 1336.1,1171.3 1344.6,1166.3 1353.1,1161.3 1357.3,1156.3 1365.8,1156.3 1374.3,1151.2 1378.6,1146.2 1387.1,1136.2 1395.6,1131.2 1404.1,1126.2 1408.3,1126.2 1416.8,1121.2 1425.3,1116.2 1429.6,1116.2 1438.1,1111.2 1446.6,1111.2 1455.1,1106.2 1467.8,1106.2 1476.3,1101.2 1527.3,1101.2 1535.8,1106.2 1540.1,1106.2 1548.6,1111.2 1557.1,1111.2 1561.3,1116.2 1569.8,1121.2 1578.3,1126.2 1586.8,1131.2 1591.1,1136.2 1599.6,1141.2 1608.1,1146.2 1612.3,1151.2 1620.8,1156.3 1629.3,1166.3 1637.8,1171.3 1642.1,1181.3 1650.6,1186.3 1659.1,1191.3 1663.3,1201.3 1671.8,1206.4 1680.3,1216.4 1688.8,1226.4 1693.1,1236.4 1701.6,1241.4 1710.1,1251.5 1718.6,1256.5 1722.8,1266.5 1731.3,1271.5 1739.8,1281.5 1744.1,1296.5 1752.6,1306.6 1761.1,1311.6 1769.6,1321.6 1773.8,1326.6 1782.3,1331.6 1790.8,1341.6 1795.1,1351.6 1803.6,1356.7 1812.1,1361.7 1820.6,1371.7 1824.8,1376.7 1833.3,1376.7 1841.8,1381.7 1846.1,1386.7 1854.6,1391.7 1863.1,1396.7 1871.6,1401.8 1875.8,1401.8 1884.3,1406.8 1892.8,1406.8 1897.1,1411.8 1905.6,1411.8 1914.1,1416.8 1935.3,1416.8 1943.8,1421.8 1965.1,1421.8 1973.6,1426.8 2024.6,1426.8 2028.8,1431.8 M278,394.7 287.4,424.8 291.6,459.9 300.1,479.9 308.6,500 312.9,510 321.4,515 338.4,515 342.6,510 351.1,505 359.6,500 363.9,494.9 372.4,494.9 380.9,500 389.4,505 393.6,520 402.1,540 410.6,555.1 414.9,585.1 423.4,610.2 431.9,650.2 440.4,695.3 444.6,720.4 453.1,760.5 461.6,780.5 470.1,805.6 474.4,820.6 482.9,840.6 491.4,860.7 495.6,870.7 504.1,880.7 521.1,880.7 525.4,875.7 533.9,860.7 542.4,840.6 546.6,815.6 555.1,800.5 563.6,775.5 572.1,750.4 576.4,715.4 584.9,690.3 593.4,660.3 597.6,635.2 606.1,590.1 614.6,575.1 623.1,545 627.4,515 635.9,494.9 644.4,479.9 648.6,479.9 657.1,484.9 665.6,494.9 674.1,515 678.4,530 686.9,560.1 695.4,580.1 703.9,605.2 708.1,645.2 716.6,660.3 725.1,680.3 729.4,685.3 737.9,690.3 754.9,690.3 759.1,680.3 767.6,670.3 776.1,660.3 780.4,645.2 788.9,625.2 797.4,605.2 805.9,590.1 810.1,580.1 818.6,560.1 827.1,550 831.4,535 839.9,525 848.4,515 856.9,505 861.1,489.9 869.6,479.9 878.1,469.9 886.6,459.9 890.9,454.9 899.4,444.8 907.9,434.8 912.1,429.8 920.6,424.8 929.1,419.8 937.6,414.8 950.4,414.8 958.9,419.8 963.1,424.8 971.6,429.8 980.1,444.8 988.6,454.9 992.9,474.9 1001.4,494.9 1009.9,525 1014.1,550 1022.6,595.1 1031.1,620.2 1039.6,670.3 1043.8,725.4 1052.3,755.5 1060.8,805.6 1065.1,835.6 1073.6,895.7 1082.1,920.8 1090.6,965.9 1094.8,995.9 1103.3,1036 1111.8,1066.1 1120.3,1086.1 1124.6,1121.2 1133.1,1146.2 1141.6,1176.3 1145.8,1186.3 1154.3,1206.4 1162.8,1216.4 1171.3,1226.4 1175.6,1231.4 1184.1,1236.4 1192.6,1236.4 1196.8,1241.4 1226.6,1241.4 1235.1,1236.4 1243.6,1231.4 1247.8,1231.4 1256.3,1226.4 1264.8,1226.4 1273.3,1221.4 1277.6,1216.4 1286.1,1211.4 1294.6,1206.4 1303.1,1201.3 1307.3,1191.3 1315.8,1186.3 1324.3,1181.3 1328.6,1176.3 1337.1,1171.3 1345.6,1166.3 1354.1,1161.3 1358.3,1156.3 1366.8,1156.3 1375.3,1151.2 1379.6,1146.2 1388.1,1136.2 1396.6,1131.2 1405.1,1126.2 1409.3,1126.2 1417.8,1121.2 1426.3,1116.2 1430.6,1116.2 1439.1,1111.2 1447.6,1111.2 1456.1,1106.2 1468.8,1106.2 1477.3,1101.2 1528.3,1101.2 1536.8,1106.2 1541.1,1106.2 1549.6,1111.2 1558.1,1111.2 1562.3,1116.2 1570.8,1121.2 1579.3,1126.2 1587.8,1131.2 1592.1,1136.2 1600.6,1141.2 1609.1,1146.2 1613.3,1151.2 1621.8,1156.3 1630.3,1166.3 1638.8,1171.3 1643.1,1181.3 1651.6,1186.3 1660.1,1191.3 1664.3,1201.3 1672.8,1206.4 1681.3,1216.4 1689.8,1226.4 1694.1,1236.4 1702.6,1241.4 1711.1,1251.5 1719.6,1256.5 1723.8,1266.5 1732.3,1271.5 1740.8,1281.5 1745.1,1296.5 1753.6,1306.6 1762.1,1311.6 1770.6,1321.6 1774.8,1326.6 1783.3,1331.6 1791.8,1341.6 1796.1,1351.6 1804.6,1356.7 1813.1,1361.7 1821.6,1371.7 1825.8,1376.7 1834.3,1376.7 1842.8,1381.7 1847.1,1386.7 1855.6,1391.7 1864.1,1396.7 1872.6,1401.8 1876.8,1401.8 1885.3,1406.8 1893.8,1406.8 1898.1,1411.8 1906.6,1411.8 1915.1,1416.8 1936.3,1416.8 1944.8,1421.8 1966.1,1421.8 1974.6,1426.8 2025.6,1426.8 2029.8,1431.8"/>
<path stroke="#8E8E00" d="M277,389.7 286.4,419.8 290.6,449.9 299.1,474.9 307.6,494.9 311.9,505 320.4,510 337.4,510 341.6,505 350.1,500 358.6,494.9 379.9,494.9 388.4,505 392.6,515 401.1,535 409.6,550 413.9,580.1 422.4,610.2 430.9,645.2 439.4,690.3 443.6,715.4 452.1,760.5 460.6,775.5 469.1,805.6 473.4,820.6 481.9,840.6 490.4,855.7 494.6,870.7 503.1,880.7 520.1,880.7 524.4,875.7 532.9,860.7 541.4,840.6 545.6,815.6 554.1,800.5 562.6,775.5 571.1,750.4 575.4,715.4 583.9,695.3 592.4,665.3 596.6,640.2 605.1,595.1 613.6,575.1 622.1,545 626.4,515 634.9,500 643.4,479.9 647.6,479.9 656.1,484.9 664.6,489.9 673.1,510 677.4,525 685.9,555.1 694.4,575.1 702.9,600.1 707.1,640.2 715.6,655.3 724.1,675.3 728.4,685.3 736.9,690.3 745.4,690.3 753.9,685.3 758.1,680.3 766.6,670.3 775.1,660.3 779.4,640.2 787.9,620.2 796.4,605.2 804.9,585.1 809.1,575.1 817.6,555.1 826.1,545 830.4,530 838.9,520 847.4,510 855.9,500 860.1,489.9 868.6,474.9 877.1,469.9 885.6,459.9 889.9,449.9 898.4,439.8 906.9,434.8 911.1,429.8 919.6,424.8 928.1,419.8 936.6,414.8 940.9,409.8 949.4,409.8 957.9,414.8 962.1,419.8 970.6,429.8 979.1,444.8 987.6,454.9 991.9,474.9 1000.4,494.9 1008.9,525 1013.1,555.1 1021.6,595.1 1030.1,620.2 1038.6,670.3 1042.8,725.4 1051.3,755.5 1059.8,805.6 1064.1,840.6 1072.6,895.7 1081.1,920.8 1089.6,970.9 1093.8,1001 1102.3,1041 1110.8,1066.1 1119.3,1091.1 1123.6,1126.2 1132.1,1151.2 1140.6,1176.3 1144.8,1191.3 1153.3,1206.4 1161.8,1216.4 1170.3,1226.4 1174.6,1231.4 1183.1,1236.4 1191.6,1236.4 1195.8,1241.4 1225.6,1241.4 1234.1,1236.4 1242.6,1231.4 1246.8,1231.4 1255.3,1226.4 1263.8,1221.4 1272.3,1221.4 1276.6,1216.4 1285.1,1211.4 1293.6,1206.4 1302.1,1201.3 1306.3,1191.3 1314.8,1186.3 1323.3,1181.3 1327.6,1176.3 1336.1,1171.3 1344.6,1166.3 1353.1,1161.3 1357.3,1156.3 1365.8,1151.2 1374.3,1146.2 1378.6,1141.2 1387.1,1136.2 1395.6,1131.2 1404.1,1131.2 1408.3,1126.2 1416.8,1121.2 1425.3,1116.2 1429.6,1116.2 1438.1,1111.2 1446.6,1111.2 1455.1,1106.2 1459.3,1106.2 1467.8,1101.2 1489.1,1101.2 1497.6,1096.1 1506.1,1096.1 1510.3,1101.2 1535.8,1101.2 1540.1,1106.2 1548.6,1106.2 1557.1,1111.2 1561.3,1111.2 1569.8,1116.2 1578.3,1121.2 1586.8,1126.2 1591.1,1131.2 1599.6,1136.2 1608.1,1146.2 1612.3,1151.2 1620.8,1156.3 1629.3,1161.3 1637.8,1166.3 1642.1,1176.3 1650.6,1181.3 1659.1,1191.3 1663.3,1196.3 1671.8,1206.4 1680.3,1211.4 1688.8,1221.4 1693.1,1231.4 1701.6,1241.4 1710.1,1246.4 1718.6,1256.5 1722.8,1261.5 1731.3,1266.5 1739.8,1276.5 1744.1,1291.5 1752.6,1301.5 1761.1,1311.6 1769.6,1316.6 1773.8,1321.6 1782.3,1331.6 1790.8,1341.6 1795.1,1346.6 1803.6,1356.7 1812.1,1361.7 1820.6,1366.7 1824.8,1371.7 1833.3,1376.7 1841.8,1381.7 1846.1,1386.7 1854.6,1391.7 1863.1,1396.7 1871.6,1396.7 1875.8,1401.8 1884.3,1401.8 1892.8,1406.8 1897.1,1406.8 1905.6,1411.8 1914.1,1411.8 1922.6,1416.8 1935.3,1416.8 1943.8,1421.8 1965.1,1421.8 1973.6,1426.8 2024.6,1426.8 2028.8,1431.8 M278,389.7 287.4,419.8 291.6,449.9 300.1,474.9 308.6,494.9 312.9,505 321.4,510 338.4,510 342.6,505 351.1,500 359.6,494.9 380.9,494.9 389.4,505 393.6,515 402.1,535 410.6,550 414.9,580.1 423.4,610.2 431.9,645.2 440.4,690.3 444.6,715.4 453.1,760.5 461.6,775.5 470.1,805.6 474.4,820.6 482.9,840.6 491.4,855.7 495.6,870.7 504.1,880.7 521.1,880.7 525.4,875.7 533.9,860.7 542.4,840.6 546.6,815.6 555.1,800.5 563.6,775.5 572.1,750.4 576.4,715.4 584.9,695.3 593.4,665.3 597.6,640.2 606.1,595.1 614.6,575.1 623.1,545 627.4,515 635.9,500 644.4,479.9 648.6,479.9 657.1,484.9 665.6,489.9 674.1,510 678.4,525 686.9,555.1 695.4,575.1 703.9,600.1 708.1,640.2 716.6,655.3 725.1,675.3 729.4,685.3 737.9,690.3 746.4,690.3 754.9,685.3 759.1,680.3 767.6,670.3 776.1,660.3 780.4,640.2 788.9,620.2 797.4,605.2 805.9,585.1 810.1,575.1 818.6,555.1 827.1,545 831.4,530 839.9,520 848.4,510 856.9,500 861.1,489.9 869.6,474.9 878.1,469.9 886.6,459.9 890.9,449.9 899.4,439.8 907.9,434.8 912.1,429.8 920.6,424.8 929.1,419.8 937.6,414.8 941.9,409.8 950.4,409.8 958.9,414.8 963.1,419.8 971.6,429.8 980.1,444.8 988.6,454.9 992.9,474.9 1001.4,494.9 1009.9,525 1014.1,555.1 1022.6,595.1 1031.1,620.2 1039.6,670.3 1043.8,725.4 1052.3,755.5 1060.8,805.6 1065.1,840.6 1073.6,895.7 1082.1,920.8 1090.6,970.9 1094.8,1001 1103.3,1041 1111.8,1066.1 1120.3,1091.1 1124.6,1126.2 1133.1,1151.2 1141.6,1176.3 1145.8,1191.3 1154.3,1206.4 1162.8,1216.4 1171.3,1226.4 1175.6,1231.4 1184.1,1236.4 1192.6,1236.4 1196.8,1241.4 1226.6,1241.4 1235.1,1236.4 1243.6,1231.4 1247.8,1231.4 1256.3,1226.4 1264.8,1221.4 1273.3,1221.4 1277.6,1216.4 1286.1,1211.4 1294.6,1206.4 1303.1,1201.3 1307.3,1191.3 1315.8,1186.3 1324.3,1181.3 1328.6,1176.3 1337.1,1171.3 1345.6,1166.3 1354.1,1161.3 1358.3,1156.3 1366.8,1151.2 1375.3,1146.2 1379.6,1141.2 1388.1,1136.2 1396.6,1131.2 1405.1,1131.2 1409.3,1126.2 1417.8,1121.2 1426.3,1116.2 1430.6,1116.2 1439.1,1111.2 1447.6,1111.2 1456.1,1106.2 1460.3,1106.2 1468.8,1101.2 1490.1,1101.2 1498.6,1096.1 1507.1,1096.1 1511.3,1101.2 1536.8,1101.2 1541.1,1106.2 1549.6,1106.2 1558.1,1111.2 1562.3,1111.2 1570.8,1116.2 1579.3,1121.2 1587.8,1126.2 1592.1,1131.2 1600.6,1136.2 1609.1,1146.2 1613.3,1151.2 1621.8,1156.3 1630.3,1161.3 1638.8,1166.3 1643.1,1176.3 1651.6,1181.3 1660.1,1191.3 1664.3,1196.3 1672.8,1206.4 1681.3,1211.4 1689.8,1221.4 1694.1,1231.4 1702.6,1241.4 1711.1,1246.4 1719.6,1256.5 1723.8,1261.5 1732.3,1266.5 1740.8,1276.5 1745.1,1291.5 1753.6,1301.5 1762.1,1311.6 1770.6,1316.6 1774.8,1321.6 1783.3,1331.6 1791.8,1341.6 1796.1,1346.6 1804.6,1356.7 1813.1,1361.7 1821.6,1366.7 1825.8,1371.7 1834.3,1376.7 1842.8,1381.7 1847.1,1386.7 1855.6,1391.7 1864.1,1396.7 1872.6,1396.7 1876.8,1401.8 1885.3,1401.8 1893.8,1406.8 1898.1,1406.8 1906.6,1411.8 1915.1,1411.8 1923.6,1416.8 1936.3,1416.8 1944.8,1421.8 1966.1,1421.8 1974.6,1426.8 2025.6,1426.8 2029.8,1431.8"/>
<path stroke="#FB6501" d="M277,379.7 286.4,414.8 290.6,444.8 299.1,469.9 307.6,489.9 311.9,500 320.4,505 328.9,510 337.4,505 341.6,500 350.1,494.9 358.6,489.9 379.9,489.9 388.4,494.9 392.6,510 401.1,530 409.6,545 413.9,580.1 422.4,605.2 430.9,645.2 439.4,690.3 443.6,715.4 452.1,755.5 460.6,775.5 469.1,805.6 473.4,820.6 481.9,840.6 490.4,855.7 494.6,870.7 503.1,880.7 520.1,880.7 524.4,870.7 532.9,860.7 541.4,840.6 545.6,820.6 554.1,800.5 562.6,775.5 571.1,750.4 575.4,715.4 583.9,695.3 592.4,665.3 596.6,640.2 605.1,595.1 613.6,575.1 622.1,545 626.4,515 634.9,500 643.4,479.9 647.6,474.9 656.1,479.9 664.6,489.9 673.1,505 677.4,525 685.9,550 694.4,575.1 702.9,600.1 707.1,635.2 715.6,655.3 724.1,670.3 728.4,680.3 736.9,685.3 745.4,690.3 753.9,685.3 758.1,680.3 766.6,670.3 775.1,655.3 779.4,640.2 787.9,620.2 796.4,600.1 804.9,585.1 809.1,575.1 817.6,555.1 826.1,545 830.4,530 838.9,515 847.4,505 855.9,500 860.1,484.9 868.6,469.9 877.1,464.9 885.6,454.9 889.9,449.9 898.4,434.8 906.9,429.8 911.1,424.8 919.6,419.8 928.1,414.8 936.6,409.8 949.4,409.8 957.9,414.8 962.1,419.8 970.6,424.8 979.1,444.8 987.6,454.9 991.9,474.9 1000.4,494.9 1008.9,525 1013.1,550 1021.6,595.1 1030.1,620.2 1038.6,670.3 1042.8,725.4 1051.3,760.5 1059.8,805.6 1064.1,840.6 1072.6,895.7 1081.1,925.8 1089.6,970.9 1093.8,1001 1102.3,1041 1110.8,1071.1 1119.3,1091.1 1123.6,1126.2 1132.1,1151.2 1140.6,1176.3 1144.8,1191.3 1153.3,1206.4 1161.8,1216.4 1170.3,1226.4 1174.6,1231.4 1183.1,1236.4 1191.6,1241.4 1225.6,1241.4 1234.1,1236.4 1242.6,1231.4 1246.8,1231.4 1255.3,1226.4 1263.8,1226.4 1272.3,1221.4 1276.6,1211.4 1285.1,1206.4 1293.6,1206.4 1302.1,1196.3 1306.3,1191.3 1314.8,1186.3 1323.3,1181.3 1327.6,1176.3 1336.1,1171.3 1344.6,1166.3 1353.1,1161.3 1357.3,1156.3 1365.8,1151.2 1374.3,1151.2 1378.6,1141.2 1387.1,1136.2 1395.6,1131.2 1404.1,1126.2 1408.3,1126.2 1416.8,1121.2 1425.3,1116.2 1429.6,1116.2 1438.1,1111.2 1446.6,1111.2 1455.1,1106.2 1459.3,1106.2 1467.8,1101.2 1476.3,1101.2 1480.6,1096.1 1518.8,1096.1 1527.3,1101.2 1540.1,1101.2 1548.6,1106.2 1557.1,1111.2 1561.3,1111.2 1569.8,1116.2 1578.3,1121.2 1586.8,1126.2 1591.1,1131.2 1599.6,1136.2 1608.1,1141.2 1612.3,1146.2 1620.8,1151.2 1629.3,1156.3 1637.8,1166.3 1642.1,1171.3 1650.6,1181.3 1659.1,1186.3 1663.3,1196.3 1671.8,1201.3 1680.3,1211.4 1688.8,1221.4 1693.1,1231.4 1701.6,1236.4 1710.1,1246.4 1718.6,1251.5 1722.8,1261.5 1731.3,1266.5 1739.8,1276.5 1744.1,1286.5 1752.6,1301.5 1761.1,1306.6 1769.6,1316.6 1773.8,1321.6 1782.3,1331.6 1790.8,1336.6 1795.1,1346.6 1803.6,1351.6 1812.1,1361.7 1820.6,1366.7 1824.8,1371.7 1833.3,1376.7 1841.8,1381.7 1846.1,1386.7 1854.6,1391.7 1863.1,1391.7 1871.6,1396.7 1875.8,1401.8 1884.3,1401.8 1892.8,1406.8 1897.1,1406.8 1905.6,1411.8 1914.1,1411.8 1922.6,1416.8 1935.3,1416.8 1943.8,1421.8 1973.6,1421.8 1977.8,1426.8 2024.6,1426.8 2028.8,1431.8 M278,379.7 287.4,414.8 291.6,444.8 300.1,469.9 308.6,489.9 312.9,500 321.4,505 329.9,510 338.4,505 342.6,500 351.1,494.9 359.6,489.9 380.9,489.9 389.4,494.9 393.6,510 402.1,530 410.6,545 414.9,580.1 423.4,605.2 431.9,645.2 440.4,690.3 444.6,715.4 453.1,755.5 461.6,775.5 470.1,805.6 474.4,820.6 482.9,840.6 491.4,855.7 495.6,870.7 504.1,880.7 521.1,880.7 525.4,870.7 533.9,860.7 542.4,840.6 546.6,820.6 555.1,800.5 563.6,775.5 572.1,750.4 576.4,715.4 584.9,695.3 593.4,665.3 597.6,640.2 606.1,595.1 614.6,575.1 623.1,545 627.4,515 635.9,500 644.4,479.9 648.6,474.9 657.1,479.9 665.6,489.9 674.1,505 678.4,525 686.9,550 695.4,575.1 703.9,600.1 708.1,635.2 716.6,655.3 725.1,670.3 729.4,680.3 737.9,685.3 746.4,690.3 754.9,685.3 759.1,680.3 767.6,670.3 776.1,655.3 780.4,640.2 788.9,620.2 797.4,600.1 805.9,585.1 810.1,575.1 818.6,555.1 827.1,545 831.4,530 839.9,515 848.4,505 856.9,500 861.1,484.9 869.6,469.9 878.1,464.9 886.6,454.9 890.9,449.9 899.4,434.8 907.9,429.8 912.1,424.8 920.6,419.8 929.1,414.8 937.6,409.8 950.4,409.8 958.9,414.8 963.1,419.8 971.6,424.8 980.1,444.8 988.6,454.9 992.9,474.9 1001.4,494.9 1009.9,525 1014.1,550 1022.6,595.1 1031.1,620.2 1039.6,670.3 1043.8,725.4 1052.3,760.5 1060.8,805.6 1065.1,840.6 1073.6,895.7 1082.1,925.8 1090.6,970.9 1094.8,1001 1103.3,1041 1111.8,1071.1 1120.3,1091.1 1124.6,1126.2 1133.1,1151.2 1141.6,1176.3 1145.8,1191.3 1154.3,1206.4 1162.8,1216.4 1171.3,1226.4 1175.6,1231.4 1184.1,1236.4 1192.6,1241.4 1226.6,1241.4 1235.1,1236.4 1243.6,1231.4 1247.8,1231.4 1256.3,1226.4 1264.8,1226.4 1273.3,1221.4 1277.6,1211.4 1286.1,1206.4 1294.6,1206.4 1303.1,1196.3 1307.3,1191.3 1315.8,1186.3 1324.3,1181.3 1328.6,1176.3 1337.1,1171.3 1345.6,1166.3 1354.1,1161.3 1358.3,1156.3 1366.8,1151.2 1375.3,1151.2 1379.6,1141.2 1388.1,1136.2 1396.6,1131.2 1405.1,1126.2 1409.3,1126.2 1417.8,1121.2 1426.3,1116.2 1430.6,1116.2 1439.1,1111.2 1447.6,1111.2 1456.1,1106.2 1460.3,1106.2 1468.8,1101.2 1477.3,1101.2 1481.6,1096.1 1519.8,1096.1 1528.3,1101.2 1541.1,1101.2 1549.6,1106.2 1558.1,1111.2 1562.3,1111.2 1570.8,1116.2 1579.3,1121.2 1587.8,1126.2 1592.1,1131.2 1600.6,1136.2 1609.1,1141.2 1613.3,1146.2 1621.8,1151.2 1630.3,1156.3 1638.8,1166.3 1643.1,1171.3 1651.6,1181.3 1660.1,1186.3 1664.3,1196.3 1672.8,1201.3 1681.3,1211.4 1689.8,1221.4 1694.1,1231.4 1702.6,1236.4 1711.1,1246.4 1719.6,1251.5 1723.8,1261.5 1732.3,1266.5 1740.8,1276.5 1745.1,1286.5 1753.6,1301.5 1762.1,1306.6 1770.6,1316.6 1774.8,1321.6 1783.3,1331.6 1791.8,1336.6 1796.1,1346.6 1804.6,1351.6 1813.1,1361.7 1821.6,1366.7 1825.8,1371.7 1834.3,1376.7 1842.8,1381.7 1847.1,1386.7 1855.6,1391.7 1864.1,1391.7 1872.6,1396.7 1876.8,1401.8 1885.3,1401.8 1893.8,1406.8 1898.1,1406.8 1906.6,1411.8 1915.1,1411.8 1923.6,1416.8 1936.3,1416.8 1944.8,1421.8 1974.6,1421.8 1978.8,1426.8 2025.6,1426.8 2029.8,1431.8"/>
<path stroke="#6699CC" d="M277,374.7 286.4,404.8 290.6,439.8 299.1,464.9 307.6,484.9 311.9,494.9 320.4,500 328.9,505 337.4,500 341.6,494.9 350.1,489.9 358.6,484.9 379.9,484.9 388.4,494.9 392.6,505 401.1,525 409.6,545 413.9,575.1 422.4,600.1 430.9,640.2 439.4,685.3 443.6,710.4 452.1,755.5 460.6,775.5 469.1,805.6 473.4,820.6 481.9,840.6 490.4,855.7 494.6,870.7 503.1,880.7 520.1,880.7 524.4,875.7 532.9,860.7 541.4,845.6 545.6,820.6 554.1,800.5 562.6,775.5 571.1,755.5 575.4,715.4 583.9,695.3 592.4,665.3 596.6,640.2 605.1,595.1 613.6,575.1 622.1,550 626.4,515 634.9,494.9 643.4,479.9 647.6,474.9 656.1,479.9 664.6,484.9 673.1,505 677.4,520 685.9,550 694.4,570.1 702.9,595.1 707.1,635.2 715.6,650.2 724.1,670.3 728.4,680.3 736.9,685.3 753.9,685.3 758.1,680.3 766.6,670.3 775.1,655.3 779.4,640.2 787.9,620.2 796.4,600.1 804.9,585.1 809.1,575.1 817.6,555.1 826.1,545 830.4,525 838.9,515 847.4,505 855.9,494.9 860.1,484.9 868.6,469.9 877.1,459.9 885.6,449.9 889.9,444.8 898.4,434.8 906.9,424.8 911.1,424.8 919.6,419.8 928.1,414.8 936.6,409.8 940.9,404.8 949.4,404.8 957.9,409.8 962.1,414.8 970.6,424.8 979.1,439.8 987.6,449.9 991.9,474.9 1000.4,494.9 1008.9,525 1013.1,555.1 1021.6,595.1 1030.1,625.2 1038.6,670.3 1042.8,725.4 1051.3,760.5 1059.8,805.6 1064.1,840.6 1072.6,900.8 1081.1,925.8 1089.6,970.9 1093.8,1001 1102.3,1041 1110.8,1071.1 1119.3,1091.1 1123.6,1126.2 1132.1,1151.2 1140.6,1176.3 1144.8,1191.3 1153.3,1211.4 1161.8,1221.4 1170.3,1226.4 1174.6,1236.4 1183.1,1236.4 1191.6,1241.4 1225.6,1241.4 1234.1,1236.4 1242.6,1231.4 1255.3,1231.4 1263.8,1226.4 1272.3,1221.4 1276.6,1216.4 1285.1,1211.4 1293.6,1206.4 1302.1,1201.3 1306.3,1191.3 1314.8,1186.3 1323.3,1181.3 1327.6,1176.3 1336.1,1171.3 1344.6,1166.3 1353.1,1161.3 1357.3,1156.3 1365.8,1151.2 1374.3,1146.2 1378.6,1141.2 1387.1,1136.2 1395.6,1131.2 1404.1,1126.2 1408.3,1121.2 1416.8,1121.2 1425.3,1116.2 1429.6,1116.2 1438.1,1111.2 1446.6,1106.2 1455.1,1106.2 1459.3,1101.2 1467.8,1101.2 1476.3,1096.1 1518.8,1096.1 1527.3,1101.2 1540.1,1101.2 1548.6,1106.2 1557.1,1106.2 1561.3,1111.2 1569.8,1116.2 1578.3,1121.2 1586.8,1126.2 1591.1,1131.2 1599.6,1136.2 1608.1,1141.2 1612.3,1146.2 1620.8,1146.2 1629.3,1156.3 1637.8,1161.3 1642.1,1171.3 1650.6,1176.3 1659.1,1186.3 1663.3,1191.3 1671.8,1201.3 1680.3,1206.4 1688.8,1216.4 1693.1,1226.4 1701.6,1236.4 1710.1,1241.4 1718.6,1251.5 1722.8,1256.5 1731.3,1266.5 1739.8,1271.5 1744.1,1286.5 1752.6,1296.5 1761.1,1306.6 1769.6,1311.6 1773.8,1321.6 1782.3,1326.6 1790.8,1336.6 1795.1,1346.6 1803.6,1351.6 1812.1,1361.7 1820.6,1366.7 1824.8,1371.7 1833.3,1376.7 1841.8,1381.7 1846.1,1381.7 1854.6,1386.7 1863.1,1391.7 1871.6,1396.7 1875.8,1401.8 1884.3,1401.8 1892.8,1406.8 1897.1,1406.8 1905.6,1411.8 1922.6,1411.8 1926.8,1416.8 1943.8,1416.8 1952.3,1421.8 2007.6,1421.8 2016.1,1426.8 2028.8,1426.8 M278,374.7 287.4,404.8 291.6,439.8 300.1,464.9 308.6,484.9 312.9,494.9 321.4,500 329.9,505 338.4,500 342.6,494.9 351.1,489.9 359.6,484.9 380.9,484.9 389.4,494.9 393.6,505 402.1,525 410.6,545 414.9,575.1 423.4,600.1 431.9,640.2 440.4,685.3 444.6,710.4 453.1,755.5 461.6,775.5 470.1,805.6 474.4,820.6 482.9,840.6 491.4,855.7 495.6,870.7 504.1,880.7 521.1,880.7 525.4,875.7 533.9,860.7 542.4,845.6 546.6,820.6 555.1,800.5 563.6,775.5 572.1,755.5 576.4,715.4 584.9,695.3 593.4,665.3 597.6,640.2 606.1,595.1 614.6,575.1 623.1,550 627.4,515 635.9,494.9 644.4,479.9 648.6,474.9 657.1,479.9 665.6,484.9 674.1,505 678.4,520 686.9,550 695.4,570.1 703.9,595.1 708.1,635.2 716.6,650.2 725.1,670.3 729.4,680.3 737.9,685.3 754.9,685.3 759.1,680.3 767.6,670.3 776.1,655.3 780.4,640.2 788.9,620.2 797.4,600.1 805.9,585.1 810.1,575.1 818.6,555.1 827.1,545 831.4,525 839.9,515 848.4,505 856.9,494.9 861.1,484.9 869.6,469.9 878.1,459.9 886.6,449.9 890.9,444.8 899.4,434.8 907.9,424.8 912.1,424.8 920.6,419.8 929.1,414.8 937.6,409.8 941.9,404.8 950.4,404.8 958.9,409.8 963.1,414.8 971.6,424.8 980.1,439.8 988.6,449.9 992.9,474.9 1001.4,494.9 1009.9,525 1014.1,555.1 1022.6,595.1 1031.1,625.2 1039.6,670.3 1043.8,725.4 1052.3,760.5 1060.8,805.6 1065.1,840.6 1073.6,900.8 1082.1,925.8 1090.6,970.9 1094.8,1001 1103.3,1041 1111.8,1071.1 1120.3,1091.1 1124.6,1126.2 1133.1,1151.2 1141.6,1176.3 1145.8,1191.3 1154.3,1211.4 1162.8,1221.4 1171.3,1226.4 1175.6,1236.4 1184.1,1236.4 1192.6,1241.4 1226.6,1241.4 1235.1,1236.4 1243.6,1231.4 1256.3,1231.4 1264.8,1226.4 1273.3,1221.4 1277.6,1216.4 1286.1,1211.4 1294.6,1206.4 1303.1,1201.3 1307.3,1191.3 1315.8,1186.3 1324.3,1181.3 1328.6,1176.3 1337.1,1171.3 1345.6,1166.3 1354.1,1161.3 1358.3,1156.3 1366.8,1151.2 1375.3,1146.2 1379.6,1141.2 1388.1,1136.2 1396.6,1131.2 1405.1,1126.2 1409.3,1121.2 1417.8,1121.2 1426.3,1116.2 1430.6,1116.2 1439.1,1111.2 1447.6,1106.2 1456.1,1106.2 1460.3,1101.2 1468.8,1101.2 1477.3,1096.1 1519.8,1096.1 1528.3,1101.2 1541.1,1101.2 1549.6,1106.2 1558.1,1106.2 1562.3,1111.2 1570.8,1116.2 1579.3,1121.2 1587.8,1126.2 1592.1,1131.2 1600.6,1136.2 1609.1,1141.2 1613.3,1146.2 1621.8,1146.2 1630.3,1156.3 1638.8,1161.3 1643.1,1171.3 1651.6,1176.3 1660.1,1186.3 1664.3,1191.3 1672.8,1201.3 1681.3,1206.4 1689.8,1216.4 1694.1,1226.4 1702.6,1236.4 1711.1,1241.4 1719.6,1251.5 1723.8,1256.5 1732.3,1266.5 1740.8,1271.5 1745.1,1286.5 1753.6,1296.5 1762.1,1306.6 1770.6,1311.6 1774.8,1321.6 1783.3,1326.6 1791.8,1336.6 1796.1,1346.6 1804.6,1351.6 1813.1,1361.7 1821.6,1366.7 1825.8,1371.7 1834.3,1376.7 1842.8,1381.7 1847.1,1381.7 1855.6,1386.7 1864.1,1391.7 1872.6,1396.7 1876.8,1401.8 1885.3,1401.8 1893.8,1406.8 1898.1,1406.8 1906.6,1411.8 1923.6,1411.8 1927.8,1416.8 1944.8,1416.8 1953.3,1421.8 2008.6,1421.8 2017.1,1426.8 2029.8,1426.8"/>
<path stroke="#6FB802" d="M277,369.7 286.4,404.8 290.6,434.8 299.1,459.9 307.6,479.9 311.9,489.9 320.4,494.9 328.9,500 337.4,500 341.6,494.9 350.1,489.9 358.6,484.9 362.9,479.9 371.4,479.9 379.9,484.9 388.4,489.9 392.6,505 401.1,520 409.6,540 413.9,570.1 422.4,595.1 430.9,635.2 439.4,680.3 443.6,710.4 452.1,750.4 460.6,775.5 469.1,805.6 473.4,820.6 481.9,840.6 490.4,855.7 494.6,870.7 503.1,880.7 520.1,880.7 524.4,875.7 532.9,860.7 541.4,840.6 545.6,820.6 554.1,800.5 562.6,775.5 571.1,755.5 575.4,720.4 583.9,695.3 592.4,665.3 596.6,640.2 605.1,595.1 613.6,575.1 622.1,550 626.4,515 634.9,500 643.4,479.9 647.6,474.9 656.1,474.9 664.6,484.9 673.1,500 677.4,520 685.9,545 694.4,570.1 702.9,590.1 707.1,630.2 715.6,650.2 724.1,670.3 728.4,675.3 736.9,685.3 753.9,685.3 758.1,675.3 766.6,665.3 775.1,655.3 779.4,640.2 787.9,615.2 796.4,600.1 804.9,580.1 809.1,570.1 817.6,550 826.1,540 830.4,525 838.9,515 847.4,500 855.9,494.9 860.1,479.9 868.6,464.9 877.1,459.9 885.6,454.9 889.9,444.8 898.4,434.8 906.9,424.8 911.1,419.8 919.6,414.8 928.1,409.8 936.6,404.8 949.4,404.8 957.9,409.8 962.1,414.8 970.6,424.8 979.1,439.8 987.6,449.9 991.9,474.9 1000.4,494.9 1008.9,525 1013.1,550 1021.6,595.1 1030.1,625.2 1038.6,670.3 1042.8,725.4 1051.3,760.5 1059.8,810.6 1064.1,840.6 1072.6,900.8 1081.1,925.8 1089.6,975.9 1093.8,1006 1102.3,1041 1110.8,1071.1 1119.3,1091.1 1123.6,1131.2 1132.1,1151.2 1140.6,1181.3 1144.8,1191.3 1153.3,1211.4 1161.8,1221.4 1170.3,1226.4 1174.6,1236.4 1183.1,1236.4 1191.6,1241.4 1225.6,1241.4 1234.1,1236.4 1242.6,1236.4 1246.8,1231.4 1255.3,1231.4 1263.8,1226.4 1272.3,1221.4 1276.6,1211.4 1285.1,1206.4 1293.6,1206.4 1302.1,1201.3 1306.3,1191.3 1314.8,1186.3 1323.3,1181.3 1327.6,1176.3 1336.1,1171.3 1344.6,1166.3 1353.1,1161.3 1357.3,1156.3 1365.8,1151.2 1374.3,1151.2 1378.6,1146.2 1387.1,1136.2 1395.6,1131.2 1404.1,1126.2 1408.3,1121.2 1416.8,1121.2 1425.3,1116.2 1429.6,1111.2 1438.1,1111.2 1446.6,1106.2 1455.1,1106.2 1459.3,1101.2 1467.8,1101.2 1476.3,1096.1 1535.8,1096.1 1540.1,1101.2 1548.6,1101.2 1557.1,1106.2 1561.3,1106.2 1569.8,1111.2 1578.3,1116.2 1586.8,1121.2 1591.1,1126.2 1599.6,1131.2 1608.1,1136.2 1612.3,1141.2 1620.8,1146.2 1629.3,1156.3 1637.8,1161.3 1642.1,1171.3 1650.6,1176.3 1659.1,1181.3 1663.3,1191.3 1671.8,1196.3 1680.3,1206.4 1688.8,1216.4 1693.1,1226.4 1701.6,1231.4 1710.1,1241.4 1718.6,1246.4 1722.8,1256.5 1731.3,1261.5 1739.8,1271.5 1744.1,1281.5 1752.6,1296.5 1761.1,1306.6 1769.6,1311.6 1773.8,1321.6 1782.3,1326.6 1790.8,1336.6 1795.1,1346.6 1803.6,1351.6 1812.1,1361.7 1820.6,1366.7 1824.8,1371.7 1833.3,1371.7 1841.8,1376.7 1846.1,1381.7 1854.6,1386.7 1863.1,1391.7 1871.6,1396.7 1875.8,1396.7 1884.3,1401.8 1892.8,1401.8 1897.1,1406.8 1905.6,1411.8 1922.6,1411.8 1926.8,1416.8 1952.3,1416.8 1956.6,1421.8 2007.6,1421.8 2016.1,1426.8 2028.8,1426.8 M278,369.7 287.4,404.8 291.6,434.8 300.1,459.9 308.6,479.9 312.9,489.9 321.4,494.9 329.9,500 338.4,500 342.6,494.9 351.1,489.9 359.6,484.9 363.9,479.9 372.4,479.9 380.9,484.9 389.4,489.9 393.6,505 402.1,520 410.6,540 414.9,570.1 423.4,595.1 431.9,635.2 440.4,680.3 444.6,710.4 453.1,750.4 461.6,775.5 470.1,805.6 474.4,820.6 482.9,840.6 491.4,855.7 495.6,870.7 504.1,880.7 521.1,880.7 525.4,875.7 533.9,860.7 542.4,840.6 546.6,820.6 555.1,800.5 563.6,775.5 572.1,755.5 576.4,720.4 584.9,695.3 593.4,665.3 597.6,640.2 606.1,595.1 614.6,575.1 623.1,550 627.4,515 635.9,500 644.4,479.9 648.6,474.9 657.1,474.9 665.6,484.9 674.1,500 678.4,520 686.9,545 695.4,570.1 703.9,590.1 708.1,630.2 716.6,650.2 725.1,670.3 729.4,675.3 737.9,685.3 754.9,685.3 759.1,675.3 767.6,665.3 776.1,655.3 780.4,640.2 788.9,615.2 797.4,600.1 805.9,580.1 810.1,570.1 818.6,550 827.1,540 831.4,525 839.9,515 848.4,500 856.9,494.9 861.1,479.9 869.6,464.9 878.1,459.9 886.6,454.9 890.9,444.8 899.4,434.8 907.9,424.8 912.1,419.8 920.6,414.8 929.1,409.8 937.6,404.8 950.4,404.8 958.9,409.8 963.1,414.8 971.6,424.8 980.1,439.8 988.6,449.9 992.9,474.9 1001.4,494.9 1009.9,525 1014.1,550 1022.6,595.1 1031.1,625.2 1039.6,670.3 1043.8,725.4 1052.3,760.5 1060.8,810.6 1065.1,840.6 1073.6,900.8 1082.1,925.8 1090.6,975.9 1094.8,1006 1103.3,1041 1111.8,1071.1 1120.3,1091.1 1124.6,1131.2 1133.1,1151.2 1141.6,1181.3 1145.8,1191.3 1154.3,1211.4 1162.8,1221.4 1171.3,1226.4 1175.6,1236.4 1184.1,1236.4 1192.6,1241.4 1226.6,1241.4 1235.1,1236.4 1243.6,1236.4 1247.8,1231.4 1256.3,1231.4 1264.8,1226.4 1273.3,1221.4 1277.6,1211.4 1286.1,1206.4 1294.6,1206.4 1303.1,1201.3 1307.3,1191.3 1315.8,1186.3 1324.3,1181.3 1328.6,1176.3 1337.1,1171.3 1345.6,1166.3 1354.1,1161.3 1358.3,1156.3 1366.8,1151.2 1375.3,1151.2 1379.6,1146.2 1388.1,1136.2 1396.6,1131.2 1405.1,1126.2 1409.3,1121.2 1417.8,1121.2 1426.3,1116.2 1430.6,1111.2 1439.1,1111.2 1447.6,1106.2 1456.1,1106.2 1460.3,1101.2 1468.8,1101.2 1477.3,1096.1 1536.8,1096.1 1541.1,1101.2 1549.6,1101.2 1558.1,1106.2 1562.3,1106.2 1570.8,1111.2 1579.3,1116.2 1587.8,1121.2 1592.1,1126.2 1600.6,1131.2 1609.1,1136.2 1613.3,1141.2 1621.8,1146.2 1630.3,1156.3 1638.8,1161.3 1643.1,1171.3 1651.6,1176.3 1660.1,1181.3 1664.3,1191.3 1672.8,1196.3 1681.3,1206.4 1689.8,1216.4 1694.1,1226.4 1702.6,1231.4 1711.1,1241.4 1719.6,1246.4 1723.8,1256.5 1732.3,1261.5 1740.8,1271.5 1745.1,1281.5 1753.6,1296.5 1762.1,1306.6 1770.6,1311.6 1774.8,1321.6 1783.3,1326.6 1791.8,1336.6 1796.1,1346.6 1804.6,1351.6 1813.1,1361.7 1821.6,1366.7 1825.8,1371.7 1834.3,1371.7 1842.8,1376.7 1847.1,1381.7 1855.6,1386.7 1864.1,1391.7 1872.6,1396.7 1876.8,1396.7 1885.3,1401.8 1893.8,1401.8 1898.1,1406.8 1906.6,1411.8 1923.6,1411.8 1927.8,1416.8 1953.3,1416.8 1957.6,1421.8 2008.6,1421.8 2017.1,1426.8 2029.8,1426.8"/>
<path stroke="#515151" d="M277,364.7 286.4,394.7 290.6,429.8 299.1,454.9 307.6,479.9 311.9,484.9 320.4,494.9 337.4,494.9 341.6,489.9 350.1,484.9 358.6,479.9 379.9,479.9 388.4,489.9 392.6,500 401.1,520 409.6,535 413.9,570.1 422.4,595.1 430.9,635.2 439.4,680.3 443.6,705.4 452.1,750.4 460.6,770.5 469.1,805.6 473.4,820.6 481.9,840.6 490.4,860.7 494.6,870.7 503.1,880.7 520.1,880.7 524.4,875.7 532.9,860.7 541.4,845.6 545.6,820.6 554.1,805.6 562.6,780.5 571.1,755.5 575.4,720.4 583.9,695.3 592.4,665.3 596.6,640.2 605.1,595.1 613.6,575.1 622.1,550 626.4,515 634.9,500 643.4,479.9 647.6,474.9 656.1,474.9 664.6,484.9 673.1,500 677.4,515 685.9,545 694.4,565.1 702.9,590.1 707.1,630.2 715.6,645.2 724.1,665.3 728.4,675.3 736.9,680.3 745.4,685.3 753.9,680.3 758.1,675.3 766.6,665.3 775.1,655.3 779.4,635.2 787.9,615.2 796.4,595.1 804.9,580.1 809.1,570.1 817.6,550 826.1,540 830.4,525 838.9,510 847.4,500 855.9,489.9 860.1,479.9 868.6,464.9 877.1,459.9 885.6,449.9 889.9,439.8 898.4,429.8 906.9,424.8 911.1,419.8 919.6,414.8 928.1,409.8 936.6,404.8 949.4,404.8 957.9,409.8 962.1,414.8 970.6,424.8 979.1,439.8 987.6,449.9 991.9,474.9 1000.4,494.9 1008.9,525 1013.1,555.1 1021.6,595.1 1030.1,625.2 1038.6,670.3 1042.8,730.4 1051.3,760.5 1059.8,810.6 1064.1,845.6 1072.6,900.8 1081.1,930.8 1089.6,975.9 1093.8,1006 1102.3,1046 1110.8,1071.1 1119.3,1091.1 1123.6,1131.2 1132.1,1151.2 1140.6,1181.3 1144.8,1191.3 1153.3,1211.4 1161.8,1221.4 1170.3,1226.4 1174.6,1236.4 1183.1,1236.4 1191.6,1241.4 1225.6,1241.4 1234.1,1236.4 1242.6,1236.4 1246.8,1231.4 1255.3,1231.4 1263.8,1226.4 1272.3,1221.4 1276.6,1216.4 1285.1,1211.4 1293.6,1206.4 1302.1,1201.3 1306.3,1196.3 1314.8,1186.3 1323.3,1181.3 1327.6,1176.3 1336.1,1171.3 1344.6,1166.3 1353.1,1161.3 1357.3,1156.3 1365.8,1151.2 1374.3,1146.2 1378.6,1141.2 1387.1,1136.2 1395.6,1131.2 1404.1,1126.2 1408.3,1126.2 1416.8,1121.2 1425.3,1116.2 1429.6,1116.2 1438.1,1111.2 1446.6,1106.2 1455.1,1106.2 1459.3,1101.2 1467.8,1101.2 1476.3,1096.1 1540.1,1096.1 1548.6,1101.2 1557.1,1101.2 1561.3,1106.2 1569.8,1111.2 1578.3,1116.2 1586.8,1121.2 1591.1,1126.2 1599.6,1131.2 1608.1,1136.2 1612.3,1141.2 1620.8,1146.2 1629.3,1151.2 1637.8,1161.3 1642.1,1166.3 1650.6,1176.3 1659.1,1181.3 1663.3,1186.3 1671.8,1196.3 1680.3,1201.3 1688.8,1216.4 1693.1,1226.4 1701.6,1231.4 1710.1,1241.4 1718.6,1246.4 1722.8,1251.5 1731.3,1261.5 1739.8,1271.5 1744.1,1281.5 1752.6,1296.5 1761.1,1301.5 1769.6,1311.6 1773.8,1316.6 1782.3,1326.6 1790.8,1336.6 1795.1,1341.6 1803.6,1351.6 1812.1,1356.7 1820.6,1361.7 1824.8,1366.7 1833.3,1371.7 1841.8,1376.7 1846.1,1381.7 1854.6,1386.7 1863.1,1391.7 1871.6,1396.7 1875.8,1396.7 1884.3,1401.8 1892.8,1401.8 1897.1,1406.8 1905.6,1411.8 1922.6,1411.8 1926.8,1416.8 1956.6,1416.8 1965.1,1421.8 2016.1,1421.8 2024.6,1426.8 2028.8,1426.8 M278,364.7 287.4,394.7 291.6,429.8 300.1,454.9 308.6,479.9 312.9,484.9 321.4,494.9 338.4,494.9 342.6,489.9 351.1,484.9 359.6,479.9 380.9,479.9 389.4,489.9 393.6,500 402.1,520 410.6,535 414.9,570.1 423.4,595.1 431.9,635.2 440.4,680.3 444.6,705.4 453.1,750.4 461.6,770.5 470.1,805.6 474.4,820.6 482.9,840.6 491.4,860.7 495.6,870.7 504.1,880.7 521.1,880.7 525.4,875.7 533.9,860.7 542.4,845.6 546.6,820.6 555.1,805.6 563.6,780.5 572.1,755.5 576.4,720.4 584.9,695.3 593.4,665.3 597.6,640.2 606.1,595.1 614.6,575.1 623.1,550 627.4,515 635.9,500 644.4,479.9 648.6,474.9 657.1,474.9 665.6,484.9 674.1,500 678.4,515 686.9,545 695.4,565.1 703.9,590.1 708.1,630.2 716.6,645.2 725.1,665.3 729.4,675.3 737.9,680.3 746.4,685.3 754.9,680.3 759.1,675.3 767.6,665.3 776.1,655.3 780.4,635.2 788.9,615.2 797.4,595.1 805.9,580.1 810.1,570.1 818.6,550 827.1,540 831.4,525 839.9,510 848.4,500 856.9,489.9 861.1,479.9 869.6,464.9 878.1,459.9 886.6,449.9 890.9,439.8 899.4,429.8 907.9,424.8 912.1,419.8 920.6,414.8 929.1,409.8 937.6,404.8 950.4,404.8 958.9,409.8 963.1,414.8 971.6,424.8 980.1,439.8 988.6,449.9 992.9,474.9 1001.4,494.9 1009.9,525 1014.1,555.1 1022.6,595.1 1031.1,625.2 1039.6,670.3 1043.8,730.4 1052.3,760.5 1060.8,810.6 1065.1,845.6 1073.6,900.8 1082.1,930.8 1090.6,975.9 1094.8,1006 1103.3,1046 1111.8,1071.1 1120.3,1091.1 1124.6,1131.2 1133.1,1151.2 1141.6,1181.3 1145.8,1191.3 1154.3,1211.4 1162.8,1221.4 1171.3,1226.4 1175.6,1236.4 1184.1,1236.4 1192.6,1241.4 1226.6,1241.4 1235.1,1236.4 1243.6,1236.4 1247.8,1231.4 1256.3,1231.4 1264.8,1226.4 1273.3,1221.4 1277.6,1216.4 1286.1,1211.4 1294.6,1206.4 1303.1,1201.3 1307.3,1196.3 1315.8,1186.3 1324.3,1181.3 1328.6,1176.3 1337.1,1171.3 1345.6,1166.3 1354.1,1161.3 1358.3,1156.3 1366.8,1151.2 1375.3,1146.2 1379.6,1141.2 1388.1,1136.2 1396.6,1131.2 1405.1,1126.2 1409.3,1126.2 1417.8,1121.2 1426.3,1116.2 1430.6,1116.2 1439.1,1111.2 1447.6,1106.2 1456.1,1106.2 1460.3,1101.2 1468.8,1101.2 1477.3,1096.1 1541.1,1096.1 1549.6,1101.2 1558.1,1101.2 1562.3,1106.2 1570.8,1111.2 1579.3,1116.2 1587.8,1121.2 1592.1,1126.2 1600.6,1131.2 1609.1,1136.2 1613.3,1141.2 1621.8,1146.2 1630.3,1151.2 1638.8,1161.3 1643.1,1166.3 1651.6,1176.3 1660.1,1181.3 1664.3,1186.3 1672.8,1196.3 1681.3,1201.3 1689.8,1216.4 1694.1,1226.4 1702.6,1231.4 1711.1,1241.4 1719.6,1246.4 1723.8,1251.5 1732.3,1261.5 1740.8,1271.5 1745.1,1281.5 1753.6,1296.5 1762.1,1301.5 1770.6,1311.6 1774.8,1316.6 1783.3,1326.6 1791.8,1336.6 1796.1,1341.6 1804.6,1351.6 1813.1,1356.7 1821.6,1361.7 1825.8,1366.7 1834.3,1371.7 1842.8,1376.7 1847.1,1381.7 1855.6,1386.7 1864.1,1391.7 1872.6,1396.7 1876.8,1396.7 1885.3,1401.8 1893.8,1401.8 1898.1,1406.8 1906.6,1411.8 1923.6,1411.8 1927.8,1416.8 1957.6,1416.8 1966.1,1421.8 2017.1,1421.8 2025.6,1426.8 2029.8,1426.8"/>
<path stroke="#F14040" d="M277,359.7 286.4,394.7 290.6,424.8 299.1,449.9 307.6,474.9 311.9,484.9 320.4,489.9 328.9,494.9 337.4,489.9 341.6,489.9 350.1,484.9 358.6,474.9 371.4,474.9 379.9,479.9 388.4,484.9 392.6,500 401.1,515 409.6,535 413.9,565.1 422.4,590.1 430.9,630.2 439.4,675.3 443.6,705.4 452.1,750.4 460.6,770.5 469.1,805.6 473.4,820.6 481.9,840.6 490.4,855.7 494.6,870.7 503.1,880.7 520.1,880.7 524.4,875.7 532.9,860.7 541.4,845.6 545.6,820.6 554.1,805.6 562.6,780.5 571.1,755.5 575.4,715.4 583.9,695.3 592.4,665.3 596.6,640.2 605.1,595.1 613.6,575.1 622.1,545 626.4,515 634.9,500 643.4,479.9 647.6,474.9 656.1,474.9 664.6,479.9 673.1,500 677.4,515 685.9,540 694.4,560.1 702.9,585.1 707.1,625.2 715.6,645.2 724.1,665.3 728.4,675.3 736.9,680.3 745.4,685.3 753.9,680.3 758.1,675.3 766.6,665.3 775.1,650.2 779.4,635.2 787.9,615.2 796.4,595.1 804.9,580.1 809.1,570.1 817.6,545 826.1,540 830.4,520 838.9,510 847.4,500 855.9,489.9 860.1,474.9 868.6,464.9 877.1,459.9 885.6,449.9 889.9,439.8 898.4,429.8 906.9,419.8 911.1,419.8 919.6,414.8 928.1,404.8 936.6,404.8 940.9,399.8 949.4,404.8 957.9,404.8 962.1,414.8 970.6,419.8 979.1,439.8 987.6,449.9 991.9,474.9 1000.4,494.9 1008.9,525 1013.1,555.1 1021.6,595.1 1030.1,625.2 1038.6,670.3 1042.8,725.4 1051.3,760.5 1059.8,810.6 1064.1,845.6 1072.6,900.8 1081.1,925.8 1089.6,975.9 1093.8,1006 1102.3,1046 1110.8,1071.1 1119.3,1096.1 1123.6,1131.2 1132.1,1151.2 1140.6,1181.3 1144.8,1191.3 1153.3,1211.4 1161.8,1221.4 1170.3,1231.4 1174.6,1236.4 1183.1,1236.4 1191.6,1241.4 1225.6,1241.4 1234.1,1236.4 1242.6,1236.4 1246.8,1231.4 1255.3,1226.4 1263.8,1226.4 1272.3,1221.4 1276.6,1216.4 1285.1,1211.4 1293.6,1206.4 1302.1,1201.3 1306.3,1196.3 1314.8,1186.3 1323.3,1181.3 1327.6,1176.3 1336.1,1171.3 1344.6,1166.3 1353.1,1161.3 1357.3,1156.3 1365.8,1151.2 1374.3,1146.2 1378.6,1141.2 1387.1,1136.2 1395.6,1131.2 1404.1,1126.2 1408.3,1121.2 1416.8,1121.2 1425.3,1116.2 1429.6,1111.2 1438.1,1106.2 1455.1,1106.2 1459.3,1101.2 1467.8,1101.2 1476.3,1096.1 1540.1,1096.1 1548.6,1101.2 1557.1,1101.2 1561.3,1106.2 1569.8,1111.2 1578.3,1116.2 1586.8,1121.2 1591.1,1126.2 1599.6,1126.2 1608.1,1131.2 1612.3,1141.2 1620.8,1146.2 1629.3,1151.2 1637.8,1156.3 1642.1,1166.3 1650.6,1171.3 1659.1,1181.3 1663.3,1186.3 1671.8,1191.3 1680.3,1201.3 1688.8,1211.4 1693.1,1221.4 1701.6,1231.4 1710.1,1236.4 1718.6,1246.4 1722.8,1251.5 1731.3,1261.5 1739.8,1266.5 1744.1,1281.5 1752.6,1291.5 1761.1,1301.5 1769.6,1306.6 1773.8,1316.6 1782.3,1326.6 1790.8,1336.6 1795.1,1341.6 1803.6,1351.6 1812.1,1356.7 1820.6,1361.7 1824.8,1366.7 1833.3,1371.7 1841.8,1376.7 1846.1,1381.7 1854.6,1386.7 1863.1,1391.7 1871.6,1396.7 1875.8,1396.7 1884.3,1401.8 1892.8,1401.8 1897.1,1406.8 1905.6,1411.8 1926.8,1411.8 1935.3,1416.8 1956.6,1416.8 1965.1,1421.8 2016.1,1421.8 2024.6,1426.8 2028.8,1426.8 M278,359.7 287.4,394.7 291.6,424.8 300.1,449.9 308.6,474.9 312.9,484.9 321.4,489.9 329.9,494.9 338.4,489.9 342.6,489.9 351.1,484.9 359.6,474.9 372.4,474.9 380.9,479.9 389.4,484.9 393.6,500 402.1,515 410.6,535 414.9,565.1 423.4,590.1 431.9,630.2 440.4,675.3 444.6,705.4 453.1,750.4 461.6,770.5 470.1,805.6 474.4,820.6 482.9,840.6 491.4,855.7 495.6,870.7 504.1,880.7 521.1,880.7 525.4,875.7 533.9,860.7 542.4,845.6 546.6,820.6 555.1,805.6 563.6,780.5 572.1,755.5 576.4,715.4 584.9,695.3 593.4,665.3 597.6,640.2 606.1,595.1 614.6,575.1 623.1,545 627.4,515 635.9,500 644.4,479.9 648.6,474.9 657.1,474.9 665.6,479.9 674.1,500 678.4,515 686.9,540 695.4,560.1 703.9,585.1 708.1,625.2 716.6,645.2 725.1,665.3 729.4,675.3 737.9,680.3 746.4,685.3 754.9,680.3 759.1,675.3 767.6,665.3 776.1,650.2 780.4,635.2 788.9,615.2 797.4,595.1 805.9,580.1 810.1,570.1 818.6,545 827.1,540 831.4,520 839.9,510 848.4,500 856.9,489.9 861.1,474.9 869.6,464.9 878.1,459.9 886.6,449.9 890.9,439.8 899.4,429.8 907.9,419.8 912.1,419.8 920.6,414.8 929.1,404.8 937.6,404.8 941.9,399.8 950.4,404.8 958.9,404.8 963.1,414.8 971.6,419.8 980.1,439.8 988.6,449.9 992.9,474.9 1001.4,494.9 1009.9,525 1014.1,555.1 1022.6,595.1 1031.1,625.2 1039.6,670.3 1043.8,725.4 1052.3,760.5 1060.8,810.6 1065.1,845.6 1073.6,900.8 1082.1,925.8 1090.6,975.9 1094.8,1006 1103.3,1046 1111.8,1071.1 1120.3,1096.1 1124.6,1131.2 1133.1,1151.2 1141.6,1181.3 1145.8,1191.3 1154.3,1211.4 1162.8,1221.4 1171.3,1231.4 1175.6,1236.4 1184.1,1236.4 1192.6,1241.4 1226.6,1241.4 1235.1,1236.4 1243.6,1236.4 1247.8,1231.4 1256.3,1226.4 1264.8,1226.4 1273.3,1221.4 1277.6,1216.4 1286.1,1211.4 1294.6,1206.4 1303.1,1201.3 1307.3,1196.3 1315.8,1186.3 1324.3,1181.3 1328.6,1176.3 1337.1,1171.3 1345.6,1166.3 1354.1,1161.3 1358.3,1156.3 1366.8,1151.2 1375.3,1146.2 1379.6,1141.2 1388.1,1136.2 1396.6,1131.2 1405.1,1126.2 1409.3,1121.2 1417.8,1121.2 1426.3,1116.2 1430.6,1111.2 1439.1,1106.2 1456.1,1106.2 1460.3,1101.2 1468.8,1101.2 1477.3,1096.1 1541.1,1096.1 1549.6,1101.2 1558.1,1101.2 1562.3,1106.2 1570.8,1111.2 1579.3,1116.2 1587.8,1121.2 1592.1,1126.2 1600.6,1126.2 1609.1,1131.2 1613.3,1141.2 1621.8,1146.2 1630.3,1151.2 1638.8,1156.3 1643.1,1166.3 1651.6,1171.3 1660.1,1181.3 1664.3,1186.3 1672.8,1191.3 1681.3,1201.3 1689.8,1211.4 1694.1,1221.4 1702.6,1231.4 1711.1,1236.4 1719.6,1246.4 1723.8,1251.5 1732.3,1261.5 1740.8,1266.5 1745.1,1281.5 1753.6,1291.5 1762.1,1301.5 1770.6,1306.6 1774.8,1316.6 1783.3,1326.6 1791.8,1336.6 1796.1,1341.6 1804.6,1351.6 1813.1,1356.7 1821.6,1361.7 1825.8,1366.7 1834.3,1371.7 1842.8,1376.7 1847.1,1381.7 1855.6,1386.7 1864.1,1391.7 1872.6,1396.7 1876.8,1396.7 1885.3,1401.8 1893.8,1401.8 1898.1,1406.8 1906.6,1411.8 1927.8,1411.8 1936.3,1416.8 1957.6,1416.8 1966.1,1421.8 2017.1,1421.8 2025.6,1426.8 2029.8,1426.8"/>
<path stroke="#1A6FDF" d="M277,354.7 286.4,389.7 290.6,419.8 299.1,449.9 307.6,469.9 311.9,479.9 320.4,484.9 328.9,489.9 337.4,489.9 341.6,484.9 350.1,479.9 358.6,474.9 379.9,474.9 388.4,484.9 392.6,494.9 401.1,515 409.6,530 413.9,565.1 422.4,590.1 430.9,630.2 439.4,675.3 443.6,705.4 452.1,745.4 460.6,770.5 469.1,805.6 473.4,820.6 481.9,840.6 490.4,855.7 494.6,870.7 503.1,880.7 520.1,880.7 524.4,875.7 532.9,860.7 541.4,845.6 545.6,820.6 554.1,805.6 562.6,780.5 571.1,755.5 575.4,715.4 583.9,695.3 592.4,665.3 596.6,640.2 605.1,595.1 613.6,575.1 622.1,550 626.4,515 634.9,500 643.4,479.9 647.6,474.9 656.1,474.9 664.6,479.9 673.1,494.9 677.4,510 685.9,540 694.4,560.1 702.9,585.1 707.1,625.2 715.6,645.2 724.1,665.3 728.4,670.3 736.9,680.3 753.9,680.3 758.1,675.3 766.6,660.3 775.1,650.2 779.4,635.2 787.9,610.2 796.4,595.1 804.9,580.1 809.1,565.1 817.6,545 826.1,540 830.4,520 838.9,510 847.4,494.9 855.9,489.9 860.1,474.9 868.6,459.9 877.1,454.9 885.6,444.8 889.9,439.8 898.4,424.8 906.9,419.8 911.1,414.8 919.6,409.8 928.1,404.8 936.6,404.8 940.9,399.8 949.4,404.8 957.9,404.8 962.1,414.8 970.6,419.8 979.1,439.8 987.6,449.9 991.9,474.9 1000.4,494.9 1008.9,525 1013.1,555.1 1021.6,595.1 1030.1,625.2 1038.6,670.3 1042.8,725.4 1051.3,760.5 1059.8,810.6 1064.1,845.6 1072.6,900.8 1081.1,930.8 1089.6,975.9 1093.8,1006 1102.3,1046 1110.8,1071.1 1119.3,1096.1 1123.6,1131.2 1132.1,1151.2 1140.6,1181.3 1144.8,1196.3 1153.3,1211.4 1161.8,1221.4 1170.3,1226.4 1174.6,1236.4 1183.1,1236.4 1191.6,1241.4 1225.6,1241.4 1234.1,1236.4 1242.6,1236.4 1246.8,1231.4 1255.3,1226.4 1263.8,1226.4 1272.3,1221.4 1276.6,1216.4 1285.1,1211.4 1293.6,1206.4 1302.1,1201.3 1306.3,1191.3 1314.8,1186.3 1323.3,1181.3 1327.6,1176.3 1336.1,1171.3 1344.6,1166.3 1353.1,1161.3 1357.3,1156.3 1365.8,1151.2 1374.3,1146.2 1378.6,1141.2 1387.1,1136.2 1395.6,1131.2 1404.1,1126.2 1408.3,1121.2 1416.8,1121.2 1425.3,1116.2 1429.6,1111.2 1438.1,1111.2 1446.6,1106.2 1455.1,1101.2 1459.3,1101.2 1467.8,1096.1 1489.1,1096.1 1497.6,1091.1 1510.3,1091.1 1518.8,1096.1 1527.3,1091.1 1535.8,1096.1 1540.1,1096.1 1548.6,1101.2 1557.1,1101.2 1561.3,1106.2 1569.8,1106.2 1578.3,1111.2 1586.8,1116.2 1591.1,1121.2 1599.6,1126.2 1608.1,1131.2 1612.3,1136.2 1620.8,1141.2 1629.3,1151.2 1637.8,1156.3 1642.1,1166.3 1650.6,1171.3 1659.1,1176.3 1663.3,1186.3 1671.8,1191.3 1680.3,1201.3 1688.8,1211.4 1693.1,1221.4 1701.6,1231.4 1710.1,1236.4 1718.6,1246.4 1722.8,1251.5 1731.3,1261.5 1739.8,1266.5 1744.1,1281.5 1752.6,1291.5 1761.1,1301.5 1769.6,1306.6 1773.8,1316.6 1782.3,1326.6 1790.8,1331.6 1795.1,1341.6 1803.6,1351.6 1812.1,1356.7 1820.6,1361.7 1824.8,1366.7 1833.3,1371.7 1841.8,1376.7 1846.1,1381.7 1854.6,1386.7 1863.1,1391.7 1871.6,1396.7 1875.8,1396.7 1884.3,1401.8 1892.8,1401.8 1897.1,1406.8 1905.6,1406.8 1914.1,1411.8 1926.8,1411.8 1935.3,1416.8 1956.6,1416.8 1965.1,1421.8 2016.1,1421.8 2024.6,1426.8 2028.8,1426.8 M278,354.7 287.4,389.7 291.6,419.8 300.1,449.9 308.6,469.9 312.9,479.9 321.4,484.9 329.9,489.9 338.4,489.9 342.6,484.9 351.1,479.9 359.6,474.9 380.9,474.9 389.4,484.9 393.6,494.9 402.1,515 410.6,530 414.9,565.1 423.4,590.1 431.9,630.2 440.4,675.3 444.6,705.4 453.1,745.4 461.6,770.5 470.1,805.6 474.4,820.6 482.9,840.6 491.4,855.7 495.6,870.7 504.1,880.7 521.1,880.7 525.4,875.7 533.9,860.7 542.4,845.6 546.6,820.6 555.1,805.6 563.6,780.5 572.1,755.5 576.4,715.4 584.9,695.3 593.4,665.3 597.6,640.2 606.1,595.1 614.6,575.1 623.1,550 627.4,515 635.9,500 644.4,479.9 648.6,474.9 657.1,474.9 665.6,479.9 674.1,494.9 678.4,510 686.9,540 695.4,560.1 703.9,585.1 708.1,625.2 716.6,645.2 725.1,665.3 729.4,670.3 737.9,680.3 754.9,680.3 759.1,675.3 767.6,660.3 776.1,650.2 780.4,635.2 788.9,610.2 797.4,595.1 805.9,580.1 810.1,565.1 818.6,545 827.1,540 831.4,520 839.9,510 848.4,494.9 856.9,489.9 861.1,474.9 869.6,459.9 878.1,454.9 886.6,444.8 890.9,439.8 899.4,424.8 907.9,419.8 912.1,414.8 920.6,409.8 929.1,404.8 937.6,404.8 941.9,399.8 950.4,404.8 958.9,404.8 963.1,414.8 971.6,419.8 980.1,439.8 988.6,449.9 992.9,474.9 1001.4,494.9 1009.9,525 1014.1,555.1 1022.6,595.1 1031.1,625.2 1039.6,670.3 1043.8,725.4 1052.3,760.5 1060.8,810.6 1065.1,845.6 1073.6,900.8 1082.1,930.8 1090.6,975.9 1094.8,1006 1103.3,1046 1111.8,1071.1 1120.3,1096.1 1124.6,1131.2 1133.1,1151.2 1141.6,1181.3 1145.8,1196.3 1154.3,1211.4 1162.8,1221.4 1171.3,1226.4 1175.6,1236.4 1184.1,1236.4 1192.6,1241.4 1226.6,1241.4 1235.1,1236.4 1243.6,1236.4 1247.8,1231.4 1256.3,1226.4 1264.8,1226.4 1273.3,1221.4 1277.6,1216.4 1286.1,1211.4 1294.6,1206.4 1303.1,1201.3 1307.3,1191.3 1315.8,1186.3 1324.3,1181.3 1328.6,1176.3 1337.1,1171.3 1345.6,1166.3 1354.1,1161.3 1358.3,1156.3 1366.8,1151.2 1375.3,1146.2 1379.6,1141.2 1388.1,1136.2 1396.6,1131.2 1405.1,1126.2 1409.3,1121.2 1417.8,1121.2 1426.3,1116.2 1430.6,1111.2 1439.1,1111.2 1447.6,1106.2 1456.1,1101.2 1460.3,1101.2 1468.8,1096.1 1490.1,1096.1 1498.6,1091.1 1511.3,1091.1 1519.8,1096.1 1528.3,1091.1 1536.8,1096.1 1541.1,1096.1 1549.6,1101.2 1558.1,1101.2 1562.3,1106.2 1570.8,1106.2 1579.3,1111.2 1587.8,1116.2 1592.1,1121.2 1600.6,1126.2 1609.1,1131.2 1613.3,1136.2 1621.8,1141.2 1630.3,1151.2 1638.8,1156.3 1643.1,1166.3 1651.6,1171.3 1660.1,1176.3 1664.3,1186.3 1672.8,1191.3 1681.3,1201.3 1689.8,1211.4 1694.1,1221.4 1702.6,1231.4 1711.1,1236.4 1719.6,1246.4 1723.8,1251.5 1732.3,1261.5 1740.8,1266.5 1745.1,1281.5 1753.6,1291.5 1762.1,1301.5 1770.6,1306.6 1774.8,1316.6 1783.3,1326.6 1791.8,1331.6 1796.1,1341.6 1804.6,1351.6 1813.1,1356.7 1821.6,1361.7 1825.8,1366.7 1834.3,1371.7 1842.8,1376.7 1847.1,1381.7 1855.6,1386.7 1864.1,1391.7 1872.6,1396.7 1876.8,1396.7 1885.3,1401.8 1893.8,1401.8 1898.1,1406.8 1906.6,1406.8 1915.1,1411.8 1927.8,1411.8 1936.3,1416.8 1957.6,1416.8 1966.1,1421.8 2017.1,1421.8 2025.6,1426.8 2029.8,1426.8"/>
<path stroke="#37AD6B" d="M277,354.7 286.4,384.7 290.6,419.8 299.1,444.8 307.6,469.9 311.9,479.9 320.4,484.9 328.9,489.9 337.4,489.9 341.6,484.9 350.1,479.9 358.6,469.9 371.4,469.9 379.9,474.9 388.4,479.9 392.6,494.9 401.1,510 409.6,530 413.9,560.1 422.4,590.1 430.9,630.2 439.4,675.3 443.6,705.4 452.1,745.4 460.6,770.5 469.1,805.6 473.4,820.6 481.9,840.6 490.4,855.7 494.6,870.7 503.1,880.7 520.1,880.7 524.4,875.7 532.9,860.7 541.4,845.6 545.6,820.6 554.1,805.6 562.6,780.5 571.1,755.5 575.4,720.4 583.9,695.3 592.4,665.3 596.6,640.2 605.1,595.1 613.6,575.1 622.1,545 626.4,515 634.9,500 643.4,479.9 647.6,474.9 656.1,474.9 664.6,479.9 673.1,494.9 677.4,510 685.9,540 694.4,560.1 702.9,585.1 707.1,625.2 715.6,640.2 724.1,660.3 728.4,670.3 736.9,675.3 745.4,680.3 753.9,680.3 758.1,670.3 766.6,660.3 775.1,650.2 779.4,635.2 787.9,610.2 796.4,595.1 804.9,575.1 809.1,565.1 817.6,545 826.1,535 830.4,520 838.9,505 847.4,494.9 855.9,489.9 860.1,474.9 868.6,459.9 877.1,454.9 885.6,444.8 889.9,434.8 898.4,424.8 906.9,419.8 911.1,414.8 919.6,409.8 928.1,404.8 936.6,399.8 949.4,399.8 957.9,404.8 962.1,414.8 970.6,419.8 979.1,439.8 987.6,449.9 991.9,474.9 1000.4,494.9 1008.9,525 1013.1,555.1 1021.6,595.1 1030.1,625.2 1038.6,670.3 1042.8,725.4 1051.3,760.5 1059.8,810.6 1064.1,845.6 1072.6,900.8 1081.1,930.8 1089.6,975.9 1093.8,1006 1102.3,1041 1110.8,1071.1 1119.3,1091.1 1123.6,1131.2 1132.1,1151.2 1140.6,1181.3 1144.8,1191.3 1153.3,1211.4 1161.8,1221.4 1170.3,1226.4 1174.6,1236.4 1183.1,1236.4 1191.6,1241.4 1225.6,1241.4 1234.1,1236.4 1242.6,1231.4 1255.3,1231.4 1263.8,1226.4 1272.3,1221.4 1276.6,1216.4 1285.1,1211.4 1293.6,1206.4 1302.1,1201.3 1306.3,1191.3 1314.8,1186.3 1323.3,1181.3 1327.6,1176.3 1336.1,1171.3 1344.6,1166.3 1353.1,1161.3 1357.3,1156.3 1365.8,1156.3 1374.3,1151.2 1378.6,1146.2 1387.1,1141.2 1395.6,1131.2 1404.1,1126.2 1408.3,1121.2 1416.8,1121.2 1425.3,1116.2 1429.6,1111.2 1438.1,1111.2 1446.6,1106.2 1455.1,1106.2 1459.3,1101.2 1467.8,1101.2 1476.3,1096.1 1480.6,1096.1 1489.1,1091.1 1527.3,1091.1 1535.8,1096.1 1548.6,1096.1 1557.1,1101.2 1561.3,1106.2 1569.8,1106.2 1578.3,1111.2 1586.8,1116.2 1591.1,1121.2 1599.6,1126.2 1608.1,1131.2 1612.3,1136.2 1620.8,1141.2 1629.3,1146.2 1637.8,1156.3 1642.1,1161.3 1650.6,1171.3 1659.1,1176.3 1663.3,1186.3 1671.8,1191.3 1680.3,1201.3 1688.8,1211.4 1693.1,1221.4 1701.6,1226.4 1710.1,1236.4 1718.6,1241.4 1722.8,1251.5 1731.3,1256.5 1739.8,1266.5 1744.1,1276.5 1752.6,1291.5 1761.1,1301.5 1769.6,1306.6 1773.8,1316.6 1782.3,1321.6 1790.8,1331.6 1795.1,1341.6 1803.6,1346.6 1812.1,1356.7 1820.6,1361.7 1824.8,1366.7 1833.3,1371.7 1841.8,1376.7 1846.1,1381.7 1854.6,1386.7 1863.1,1391.7 1871.6,1396.7 1875.8,1396.7 1884.3,1401.8 1892.8,1401.8 1897.1,1406.8 1905.6,1406.8 1914.1,1411.8 1926.8,1411.8 1935.3,1416.8 1956.6,1416.8 1965.1,1421.8 2016.1,1421.8 2024.6,1426.8 2028.8,1426.8 M278,354.7 287.4,384.7 291.6,419.8 300.1,444.8 308.6,469.9 312.9,479.9 321.4,484.9 329.9,489.9 338.4,489.9 342.6,484.9 351.1,479.9 359.6,469.9 372.4,469.9 380.9,474.9 389.4,479.9 393.6,494.9 402.1,510 410.6,530 414.9,560.1 423.4,590.1 431.9,630.2 440.4,675.3 444.6,705.4 453.1,745.4 461.6,770.5 470.1,805.6 474.4,820.6 482.9,840.6 491.4,855.7 495.6,870.7 504.1,880.7 521.1,880.7 525.4,875.7 533.9,860.7 542.4,845.6 546.6,820.6 555.1,805.6 563.6,780.5 572.1,755.5 576.4,720.4 584.9,695.3 593.4,665.3 597.6,640.2 606.1,595.1 614.6,575.1 623.1,545 627.4,515 635.9,500 644.4,479.9 648.6,474.9 657.1,474.9 665.6,479.9 674.1,494.9 678.4,510 686.9,540 695.4,560.1 703.9,585.1 708.1,625.2 716.6,640.2 725.1,660.3 729.4,670.3 737.9,675.3 746.4,680.3 754.9,680.3 759.1,670.3 767.6,660.3 776.1,650.2 780.4,635.2 788.9,610.2 797.4,595.1 805.9,575.1 810.1,565.1 818.6,545 827.1,535 831.4,520 839.9,505 848.4,494.9 856.9,489.9 861.1,474.9 869.6,459.9 878.1,454.9 886.6,444.8 890.9,434.8 899.4,424.8 907.9,419.8 912.1,414.8 920.6,409.8 929.1,404.8 937.6,399.8 950.4,399.8 958.9,404.8 963.1,414.8 971.6,419.8 980.1,439.8 988.6,449.9 992.9,474.9 1001.4,494.9 1009.9,525 1014.1,555.1 1022.6,595.1 1031.1,625.2 1039.6,670.3 1043.8,725.4 1052.3,760.5 1060.8,810.6 1065.1,845.6 1073.6,900.8 1082.1,930.8 1090.6,975.9 1094.8,1006 1103.3,1041 1111.8,1071.1 1120.3,1091.1 1124.6,1131.2 1133.1,1151.2 1141.6,1181.3 1145.8,1191.3 1154.3,1211.4 1162.8,1221.4 1171.3,1226.4 1175.6,1236.4 1184.1,1236.4 1192.6,1241.4 1226.6,1241.4 1235.1,1236.4 1243.6,1231.4 1256.3,1231.4 1264.8,1226.4 1273.3,1221.4 1277.6,1216.4 1286.1,1211.4 1294.6,1206.4 1303.1,1201.3 1307.3,1191.3 1315.8,1186.3 1324.3,1181.3 1328.6,1176.3 1337.1,1171.3 1345.6,1166.3 1354.1,1161.3 1358.3,1156.3 1366.8,1156.3 1375.3,1151.2 1379.6,1146.2 1388.1,1141.2 1396.6,1131.2 1405.1,1126.2 1409.3,1121.2 1417.8,1121.2 1426.3,1116.2 1430.6,1111.2 1439.1,1111.2 1447.6,1106.2 1456.1,1106.2 1460.3,1101.2 1468.8,1101.2 1477.3,1096.1 1481.6,1096.1 1490.1,1091.1 1528.3,1091.1 1536.8,1096.1 1549.6,1096.1 1558.1,1101.2 1562.3,1106.2 1570.8,1106.2 1579.3,1111.2 1587.8,1116.2 1592.1,1121.2 1600.6,1126.2 1609.1,1131.2 1613.3,1136.2 1621.8,1141.2 1630.3,1146.2 1638.8,1156.3 1643.1,1161.3 1651.6,1171.3 1660.1,1176.3 1664.3,1186.3 1672.8,1191.3 1681.3,1201.3 1689.8,1211.4 1694.1,1221.4 1702.6,1226.4 1711.1,1236.4 1719.6,1241.4 1723.8,1251.5 1732.3,1256.5 1740.8,1266.5 1745.1,1276.5 1753.6,1291.5 1762.1,1301.5 1770.6,1306.6 1774.8,1316.6 1783.3,1321.6 1791.8,1331.6 1796.1,1341.6 1804.6,1346.6 1813.1,1356.7 1821.6,1361.7 1825.8,1366.7 1834.3,1371.7 1842.8,1376.7 1847.1,1381.7 1855.6,1386.7 1864.1,1391.7 1872.6,1396.7 1876.8,1396.7 1885.3,1401.8 1893.8,1401.8 1898.1,1406.8 1906.6,1406.8 1915.1,1411.8 1927.8,1411.8 1936.3,1416.8 1957.6,1416.8 1966.1,1421.8 2017.1,1421.8 2025.6,1426.8 2029.8,1426.8"/>
<path stroke="#B177DE" d="M277,349.7 286.4,379.7 290.6,414.8 299.1,439.8 307.6,464.9 311.9,474.9 320.4,484.9 337.4,484.9 341.6,479.9 350.1,474.9 358.6,469.9 371.4,469.9 379.9,474.9 388.4,479.9 392.6,489.9 401.1,510 409.6,530 413.9,560.1 422.4,585.1 430.9,630.2 439.4,675.3 443.6,700.4 452.1,745.4 460.6,770.5 469.1,805.6 473.4,820.6 481.9,840.6 490.4,855.7 494.6,870.7 503.1,880.7 520.1,880.7 524.4,875.7 532.9,865.7 541.4,845.6 545.6,820.6 554.1,805.6 562.6,780.5 571.1,755.5 575.4,720.4 583.9,695.3 592.4,665.3 596.6,640.2 605.1,595.1 613.6,575.1 622.1,550 626.4,515 634.9,500 643.4,474.9 647.6,469.9 656.1,474.9 664.6,479.9 673.1,494.9 677.4,510 685.9,540 694.4,560.1 702.9,580.1 707.1,625.2 715.6,640.2 724.1,660.3 728.4,670.3 736.9,675.3 745.4,680.3 753.9,680.3 758.1,670.3 766.6,660.3 775.1,650.2 779.4,635.2 787.9,610.2 796.4,595.1 804.9,575.1 809.1,565.1 817.6,545 826.1,535 830.4,520 838.9,505 847.4,494.9 855.9,484.9 860.1,474.9 868.6,459.9 877.1,454.9 885.6,444.8 889.9,434.8 898.4,424.8 906.9,419.8 911.1,414.8 919.6,409.8 928.1,404.8 936.6,399.8 949.4,399.8 957.9,404.8 962.1,414.8 970.6,419.8 979.1,434.8 987.6,449.9 991.9,474.9 1000.4,494.9 1008.9,525 1013.1,555.1 1021.6,595.1 1030.1,625.2 1038.6,670.3 1042.8,725.4 1051.3,760.5 1059.8,810.6 1064.1,845.6 1072.6,900.8 1081.1,930.8 1089.6,975.9 1093.8,1006 1102.3,1046 1110.8,1071.1 1119.3,1096.1 1123.6,1131.2 1132.1,1151.2 1140.6,1181.3 1144.8,1196.3 1153.3,1211.4 1161.8,1221.4 1170.3,1231.4 1174.6,1236.4 1183.1,1236.4 1191.6,1241.4 1234.1,1241.4 1242.6,1236.4 1246.8,1231.4 1255.3,1231.4 1263.8,1226.4 1272.3,1221.4 1276.6,1216.4 1285.1,1211.4 1293.6,1206.4 1302.1,1201.3 1306.3,1191.3 1314.8,1186.3 1323.3,1181.3 1327.6,1176.3 1336.1,1171.3 1344.6,1166.3 1353.1,1161.3 1357.3,1156.3 1365.8,1151.2 1374.3,1146.2 1378.6,1141.2 1387.1,1136.2 1395.6,1131.2 1404.1,1126.2 1408.3,1121.2 1416.8,1121.2 1425.3,1116.2 1429.6,1111.2 1438.1,1111.2 1446.6,1106.2 1455.1,1101.2 1459.3,1101.2 1467.8,1096.1 1476.3,1096.1 1480.6,1091.1 1535.8,1091.1 1540.1,1096.1 1548.6,1096.1 1557.1,1101.2 1561.3,1101.2 1569.8,1106.2 1578.3,1111.2 1586.8,1116.2 1591.1,1121.2 1599.6,1126.2 1608.1,1131.2 1612.3,1136.2 1620.8,1141.2 1629.3,1146.2 1637.8,1156.3 1642.1,1161.3 1650.6,1171.3 1659.1,1176.3 1663.3,1181.3 1671.8,1191.3 1680.3,1196.3 1688.8,1211.4 1693.1,1221.4 1701.6,1226.4 1710.1,1236.4 1718.6,1241.4 1722.8,1251.5 1731.3,1256.5 1739.8,1266.5 1744.1,1281.5 1752.6,1291.5 1761.1,1301.5 1769.6,1306.6 1773.8,1316.6 1782.3,1321.6 1790.8,1331.6 1795.1,1341.6 1803.6,1346.6 1812.1,1356.7 1820.6,1361.7 1824.8,1366.7 1833.3,1371.7 1841.8,1376.7 1846.1,1381.7 1854.6,1386.7 1863.1,1391.7 1871.6,1396.7 1875.8,1396.7 1884.3,1401.8 1892.8,1401.8 1897.1,1406.8 1905.6,1406.8 1914.1,1411.8 1926.8,1411.8 1935.3,1416.8 1956.6,1416.8 1965.1,1421.8 2016.1,1421.8 2024.6,1426.8 2028.8,1426.8 M278,349.7 287.4,379.7 291.6,414.8 300.1,439.8 308.6,464.9 312.9,474.9 321.4,484.9 338.4,484.9 342.6,479.9 351.1,474.9 359.6,469.9 372.4,469.9 380.9,474.9 389.4,479.9 393.6,489.9 402.1,510 410.6,530 414.9,560.1 423.4,585.1 431.9,630.2 440.4,675.3 444.6,700.4 453.1,745.4 461.6,770.5 470.1,805.6 474.4,820.6 482.9,840.6 491.4,855.7 495.6,870.7 504.1,880.7 521.1,880.7 525.4,875.7 533.9,865.7 542.4,845.6 546.6,820.6 555.1,805.6 563.6,780.5 572.1,755.5 576.4,720.4 584.9,695.3 593.4,665.3 597.6,640.2 606.1,595.1 614.6,575.1 623.1,550 627.4,515 635.9,500 644.4,474.9 648.6,469.9 657.1,474.9 665.6,479.9 674.1,494.9 678.4,510 686.9,540 695.4,560.1 703.9,580.1 708.1,625.2 716.6,640.2 725.1,660.3 729.4,670.3 737.9,675.3 746.4,680.3 754.9,680.3 759.1,670.3 767.6,660.3 776.1,650.2 780.4,635.2 788.9,610.2 797.4,595.1 805.9,575.1 810.1,565.1 818.6,545 827.1,535 831.4,520 839.9,505 848.4,494.9 856.9,484.9 861.1,474.9 869.6,459.9 878.1,454.9 886.6,444.8 890.9,434.8 899.4,424.8 907.9,419.8 912.1,414.8 920.6,409.8 929.1,404.8 937.6,399.8 950.4,399.8 958.9,404.8 963.1,414.8 971.6,419.8 980.1,434.8 988.6,449.9 992.9,474.9 1001.4,494.9 1009.9,525 1014.1,555.1 1022.6,595.1 1031.1,625.2 1039.6,670.3 1043.8,725.4 1052.3,760.5 1060.8,810.6 1065.1,845.6 1073.6,900.8 1082.1,930.8 1090.6,975.9 1094.8,1006 1103.3,1046 1111.8,1071.1 1120.3,1096.1 1124.6,1131.2 1133.1,1151.2 1141.6,1181.3 1145.8,1196.3 1154.3,1211.4 1162.8,1221.4 1171.3,1231.4 1175.6,1236.4 1184.1,1236.4 1192.6,1241.4 1235.1,1241.4 1243.6,1236.4 1247.8,1231.4 1256.3,1231.4 1264.8,1226.4 1273.3,1221.4 1277.6,1216.4 1286.1,1211.4 1294.6,1206.4 1303.1,1201.3 1307.3,1191.3 1315.8,1186.3 1324.3,1181.3 1328.6,1176.3 1337.1,1171.3 1345.6,1166.3 1354.1,1161.3 1358.3,1156.3 1366.8,1151.2 1375.3,1146.2 1379.6,1141.2 1388.1,1136.2 1396.6,1131.2 1405.1,1126.2 1409.3,1121.2 1417.8,1121.2 1426.3,1116.2 1430.6,1111.2 1439.1,1111.2 1447.6,1106.2 1456.1,1101.2 1460.3,1101.2 1468.8,1096.1 1477.3,1096.1 1481.6,1091.1 1536.8,1091.1 1541.1,1096.1 1549.6,1096.1 1558.1,1101.2 1562.3,1101.2 1570.8,1106.2 1579.3,1111.2 1587.8,1116.2 1592.1,1121.2 1600.6,1126.2 1609.1,1131.2 1613.3,1136.2 1621.8,1141.2 1630.3,1146.2 1638.8,1156.3 1643.1,1161.3 1651.6,1171.3 1660.1,1176.3 1664.3,1181.3 1672.8,1191.3 1681.3,1196.3 1689.8,1211.4 1694.1,1221.4 1702.6,1226.4 1711.1,1236.4 1719.6,1241.4 1723.8,1251.5 1732.3,1256.5 1740.8,1266.5 1745.1,1281.5 1753.6,1291.5 1762.1,1301.5 1770.6,1306.6 1774.8,1316.6 1783.3,1321.6 1791.8,1331.6 1796.1,1341.6 1804.6,1346.6 1813.1,1356.7 1821.6,1361.7 1825.8,1366.7 1834.3,1371.7 1842.8,1376.7 1847.1,1381.7 1855.6,1386.7 1864.1,1391.7 1872.6,1396.7 1876.8,1396.7 1885.3,1401.8 1893.8,1401.8 1898.1,1406.8 1906.6,1406.8 1915.1,1411.8 1927.8,1411.8 1936.3,1416.8 1957.6,1416.8 1966.1,1421.8 2017.1,1421.8 2025.6,1426.8 2029.8,1426.8"/>
<path stroke="#CC9900" d="M277,344.6 286.4,379.7 290.6,414.8 299.1,439.8 307.6,464.9 311.9,474.9 320.4,479.9 328.9,484.9 337.4,484.9 341.6,479.9 350.1,474.9 358.6,469.9 379.9,469.9 388.4,479.9 392.6,489.9 401.1,510 409.6,525 413.9,555.1 422.4,585.1 430.9,625.2 439.4,670.3 443.6,700.4 452.1,745.4 460.6,765.5 469.1,805.6 473.4,820.6 481.9,840.6 490.4,855.7 494.6,870.7 503.1,880.7 520.1,880.7 524.4,875.7 532.9,860.7 541.4,845.6 545.6,820.6 554.1,805.6 562.6,780.5 571.1,755.5 575.4,720.4 583.9,695.3 592.4,665.3 596.6,640.2 605.1,595.1 613.6,575.1 622.1,550 626.4,515 634.9,500 643.4,479.9 647.6,474.9 656.1,474.9 664.6,479.9 673.1,494.9 677.4,510 685.9,535 694.4,555.1 702.9,580.1 707.1,620.2 715.6,640.2 724.1,660.3 728.4,670.3 736.9,675.3 745.4,680.3 753.9,680.3 758.1,670.3 766.6,660.3 775.1,650.2 779.4,635.2 787.9,610.2 796.4,590.1 804.9,575.1 809.1,565.1 817.6,545 826.1,535 830.4,520 838.9,505 847.4,494.9 855.9,484.9 860.1,474.9 868.6,459.9 877.1,454.9 885.6,444.8 889.9,434.8 898.4,424.8 906.9,414.8 911.1,414.8 919.6,409.8 928.1,404.8 936.6,399.8 949.4,399.8 957.9,404.8 962.1,409.8 970.6,419.8 979.1,434.8 987.6,449.9 991.9,474.9 1000.4,494.9 1008.9,525 1013.1,555.1 1021.6,595.1 1030.1,625.2 1038.6,670.3 1042.8,725.4 1051.3,760.5 1059.8,810.6 1064.1,845.6 1072.6,900.8 1081.1,930.8 1089.6,975.9 1093.8,1006 1102.3,1046 1110.8,1071.1 1119.3,1096.1 1123.6,1131.2 1132.1,1151.2 1140.6,1181.3 1144.8,1191.3 1153.3,1211.4 1161.8,1221.4 1170.3,1231.4 1174.6,1236.4 1183.1,1236.4 1191.6,1241.4 1225.6,1241.4 1234.1,1236.4 1242.6,1236.4 1246.8,1231.4 1255.3,1231.4 1263.8,1226.4 1272.3,1221.4 1276.6,1216.4 1285.1,1211.4 1293.6,1206.4 1302.1,1201.3 1306.3,1191.3 1314.8,1186.3 1323.3,1181.3 1327.6,1176.3 1336.1,1171.3 1344.6,1166.3 1353.1,1161.3 1357.3,1156.3 1365.8,1151.2 1374.3,1146.2 1378.6,1141.2 1387.1,1136.2 1395.6,1131.2 1404.1,1126.2 1408.3,1121.2 1416.8,1121.2 1425.3,1116.2 1429.6,1111.2 1438.1,1106.2 1446.6,1106.2 1455.1,1101.2 1459.3,1101.2 1467.8,1096.1 1476.3,1096.1 1480.6,1091.1 1535.8,1091.1 1540.1,1096.1 1548.6,1096.1 1557.1,1101.2 1561.3,1101.2 1569.8,1106.2 1578.3,1111.2 1586.8,1116.2 1591.1,1121.2 1599.6,1126.2 1608.1,1131.2 1612.3,1136.2 1620.8,1141.2 1629.3,1146.2 1637.8,1156.3 1642.1,1161.3 1650.6,1166.3 1659.1,1176.3 1663.3,1181.3 1671.8,1186.3 1680.3,1196.3 1688.8,1211.4 1693.1,1221.4 1701.6,1226.4 1710.1,1231.4 1718.6,1241.4 1722.8,1246.4 1731.3,1256.5 1739.8,1266.5 1744.1,1276.5 1752.6,1291.5 1761.1,1296.5 1769.6,1306.6 1773.8,1311.6 1782.3,1321.6 1790.8,1331.6 1795.1,1341.6 1803.6,1346.6 1812.1,1356.7 1820.6,1361.7 1824.8,1366.7 1833.3,1371.7 1841.8,1376.7 1846.1,1381.7 1854.6,1386.7 1863.1,1391.7 1871.6,1396.7 1875.8,1396.7 1884.3,1401.8 1892.8,1401.8 1897.1,1406.8 1905.6,1406.8 1914.1,1411.8 1926.8,1411.8 1935.3,1416.8 1956.6,1416.8 1965.1,1421.8 2016.1,1421.8 2024.6,1426.8 2028.8,1426.8 M278,344.6 287.4,379.7 291.6,414.8 300.1,439.8 308.6,464.9 312.9,474.9 321.4,479.9 329.9,484.9 338.4,484.9 342.6,479.9 351.1,474.9 359.6,469.9 380.9,469.9 389.4,479.9 393.6,489.9 402.1,510 410.6,525 414.9,555.1 423.4,585.1 431.9,625.2 440.4,670.3 444.6,700.4 453.1,745.4 461.6,765.5 470.1,805.6 474.4,820.6 482.9,840.6 491.4,855.7 495.6,870.7 504.1,880.7 521.1,880.7 525.4,875.7 533.9,860.7 542.4,845.6 546.6,820.6 555.1,805.6 563.6,780.5 572.1,755.5 576.4,720.4 584.9,695.3 593.4,665.3 597.6,640.2 606.1,595.1 614.6,575.1 623.1,550 627.4,515 635.9,500 644.4,479.9 648.6,474.9 657.1,474.9 665.6,479.9 674.1,494.9 678.4,510 686.9,535 695.4,555.1 703.9,580.1 708.1,620.2 716.6,640.2 725.1,660.3 729.4,670.3 737.9,675.3 746.4,680.3 754.9,680.3 759.1,670.3 767.6,660.3 776.1,650.2 780.4,635.2 788.9,610.2 797.4,590.1 805.9,575.1 810.1,565.1 818.6,545 827.1,535 831.4,520 839.9,505 848.4,494.9 856.9,484.9 861.1,474.9 869.6,459.9 878.1,454.9 886.6,444.8 890.9,434.8 899.4,424.8 907.9,414.8 912.1,414.8 920.6,409.8 929.1,404.8 937.6,399.8 950.4,399.8 958.9,404.8 963.1,409.8 971.6,419.8 980.1,434.8 988.6,449.9 992.9,474.9 1001.4,494.9 1009.9,525 1014.1,555.1 1022.6,595.1 1031.1,625.2 1039.6,670.3 1043.8,725.4 1052.3,760.5 1060.8,810.6 1065.1,845.6 1073.6,900.8 1082.1,930.8 1090.6,975.9 1094.8,1006 1103.3,1046 1111.8,1071.1 1120.3,1096.1 1124.6,1131.2 1133.1,1151.2 1141.6,1181.3 1145.8,1191.3 1154.3,1211.4 1162.8,1221.4 1171.3,1231.4 1175.6,1236.4 1184.1,1236.4 1192.6,1241.4 1226.6,1241.4 1235.1,1236.4 1243.6,1236.4 1247.8,1231.4 1256.3,1231.4 1264.8,1226.4 1273.3,1221.4 1277.6,1216.4 1286.1,1211.4 1294.6,1206.4 1303.1,1201.3 1307.3,1191.3 1315.8,1186.3 1324.3,1181.3 1328.6,1176.3 1337.1,1171.3 1345.6,1166.3 1354.1,1161.3 1358.3,1156.3 1366.8,1151.2 1375.3,1146.2 1379.6,1141.2 1388.1,1136.2 1396.6,1131.2 1405.1,1126.2 1409.3,1121.2 1417.8,1121.2 1426.3,1116.2 1430.6,1111.2 1439.1,1106.2 1447.6,1106.2 1456.1,1101.2 1460.3,1101.2 1468.8,1096.1 1477.3,1096.1 1481.6,1091.1 1536.8,1091.1 1541.1,1096.1 1549.6,1096.1 1558.1,1101.2 1562.3,1101.2 1570.8,1106.2 1579.3,1111.2 1587.8,1116.2 1592.1,1121.2 1600.6,1126.2 1609.1,1131.2 1613.3,1136.2 1621.8,1141.2 1630.3,1146.2 1638.8,1156.3 1643.1,1161.3 1651.6,1166.3 1660.1,1176.3 1664.3,1181.3 1672.8,1186.3 1681.3,1196.3 1689.8,1211.4 1694.1,1221.4 1702.6,1226.4 1711.1,1231.4 1719.6,1241.4 1723.8,1246.4 1732.3,1256.5 1740.8,1266.5 1745.1,1276.5 1753.6,1291.5 1762.1,1296.5 1770.6,1306.6 1774.8,1311.6 1783.3,1321.6 1791.8,1331.6 1796.1,1341.6 1804.6,1346.6 1813.1,1356.7 1821.6,1361.7 1825.8,1366.7 1834.3,1371.7 1842.8,1376.7 1847.1,1381.7 1855.6,1386.7 1864.1,1391.7 1872.6,1396.7 1876.8,1396.7 1885.3,1401.8 1893.8,1401.8 1898.1,1406.8 1906.6,1406.8 1915.1,1411.8 1927.8,1411.8 1936.3,1416.8 1957.6,1416.8 1966.1,1421.8 2017.1,1421.8 2025.6,1426.8 2029.8,1426.8"/>
</g>
<g fill="#000" stroke="none" shape-rendering="crispEdges">
<rect x="1033" y="171.8" width="1.2" height="131"/>
<polygon points="1022.9,301.9 1039,301.9 1034.4,337.8 1032.9,337.8"/>
<rect x="517" y="982" width="1.2" height="141"/>
<polygon points="511.8,982.8 528.1,982.8 518.9,946.7 517,946.7"/>
<rect x="1524" y="912" width="1.2" height="141"/>
<polygon points="1518.9,912.8 1535.1,912.8 1525.9,876.7 1524,876.7"/>
</g>
<g fill="#000">
<text transform="translate(0,203.2) scale(0.975,1.025)" x="201.93" y="0" font-family="'Liberation Sans', sans-serif" font-weight="normal" font-size="59.5">2</text>
<clipPath id="k1" clipPathUnits="userSpaceOnUse"><rect x="150" y="460" width="25" height="51.6"/><rect x="169" y="511" width="6" height="19"/><rect x="185.5" y="460" width="54.5" height="70"/></clipPath><g clip-path="url(#k1)">
<text transform="translate(0,516.6) scale(0.975,1.025)" x="158.65 186.05 202.95" y="0" font-family="'Liberation Sans', sans-serif" font-weight="normal" font-size="59.5">1.5</text>
</g>
<clipPath id="k2" clipPathUnits="userSpaceOnUse"><rect x="190" y="770" width="30.2" height="52"/><rect x="214.2" y="821.5" width="6" height="18.5"/></clipPath><g clip-path="url(#k2)">
<text transform="translate(0,827.1) scale(0.975,1.025)" x="205.01" y="0" font-family="'Liberation Sans', sans-serif" font-weight="normal" font-size="59.5">1</text>
</g>
<text transform="translate(0,1142.7) scale(0.975,1.025)" x="156.24 186.05 202.95" y="0" font-family="'Liberation Sans', sans-serif" font-weight="normal" font-size="59.5">0.5</text>
<text transform="translate(0,1451.5) scale(0.975,1.025)" x="202.80" y="0" font-family="'Liberation Sans', sans-serif" font-weight="normal" font-size="59.5">0</text>
<text transform="translate(0,1526.6) scale(0.975,1.025)" x="535.26 567.87 603.93" y="0" font-family="'Liberation Sans', sans-serif" font-weight="normal" font-size="59.5">250</text>
<text transform="translate(0,1526.6) scale(0.975,1.025)" x="911.27 942.29 978.39" y="0" font-family="'Liberation Sans', sans-serif" font-weight="normal" font-size="59.5">300</text>
<text transform="translate(0,1526.6) scale(0.975,1.025)" x="1286.66 1317.31 1353.37" y="0" font-family="'Liberation Sans', sans-serif" font-weight="normal" font-size="59.5">350</text>
<text transform="translate(0,1526.6) scale(0.975,1.025)" x="1655.76 1693.06 1728.65" y="0" font-family="'Liberation Sans', sans-serif" font-weight="normal" font-size="59.5">400</text>
<text transform="translate(0,1526.6) scale(0.975,1.025)" x="2030.22 2068.28 2104.34" y="0" font-family="'Liberation Sans', sans-serif" font-weight="normal" font-size="59.5">450</text>
<text transform="translate(0,1642) scale(0.985,0.977)" x="866.67 936.85 979.23 1013.91 1054.82 1095.74 1136.24 1202.18 1242.33 1283.24 1308.72 1329.06 1354.11 1394.62 1456.61" y="0" font-family="'Liberation Sans', sans-serif" font-weight="normal" font-size="76.5" stroke="#000" stroke-width="0.5" stroke-linejoin="round">Wavenumber (nm)</text>
<text transform="translate(67.1,0) rotate(-90) scale(0.985,0.977)" x="-900.66 -849.60 -807.81 -773.77 -732.80 -707.47 -667.01 -621.22 -580.81 -545.38" y="0" font-family="'Liberation Sans', sans-serif" font-weight="normal" font-size="76.5" stroke="#000" stroke-width="0.5" stroke-linejoin="round">Absorbance</text>
<text transform="translate(0,577.3) scale(0.985,1.02)" x="1049.68 1090.72 1130.60 1173.14 1197.05 1237.36" y="0" font-family="'Liberation Sans', sans-serif" font-weight="normal" font-size="76.5" stroke="#000" stroke-width="0.5" stroke-linejoin="round">307 nm</text>
<text transform="translate(0,1263.1) scale(0.985,1.02)" x="1344.09 1387.99 1430.64 1473.19 1491.47 1531.77" y="0" font-family="'Liberation Sans', sans-serif" font-weight="normal" font-size="76.5" stroke="#000" stroke-width="0.5" stroke-linejoin="round">365 nm</text>
<text transform="translate(0,303.3) scale(1.05,1.0)" x="1022.45" y="0" font-family="'Liberation Sans', sans-serif" font-weight="normal" font-size="119.5">c</text>
<text transform="translate(0,337.1) scale(0.95,1.0)" x="1193.42 1256.27" y="0" font-family="'Liberation Sans', sans-serif" font-weight="normal" font-size="84">CD</text>
<text transform="translate(0,1048.2) scale(1.05,1.0)" x="535.69" y="0" font-family="'Liberation Sans', sans-serif" font-weight="normal" font-size="119.5">c</text>
<text transform="translate(0,1077.9) scale(0.95,1.0)" x="655.52 718.27" y="0" font-family="'Liberation Sans', sans-serif" font-weight="normal" font-size="84">CD</text>
<text transform="translate(0,993.2) scale(1.05,1.0)" x="1513.88" y="0" font-family="'Liberation Sans', sans-serif" font-weight="normal" font-size="119.5">c</text>
<text transform="translate(0,1027.9) scale(0.95,1.0)" x="1736.52 1793.95" y="0" font-family="'Liberation Sans', sans-serif" font-weight="normal" font-size="84">CD</text>
<text y="1871.1" font-family="'Liberation Serif', serif" font-size="84" x="1043.71">(<tspan font-weight="bold" font-size="90" x="1070.76">b</tspan><tspan x="1121.49">)</tspan></text>
</g>
</svg>
</body></html>
